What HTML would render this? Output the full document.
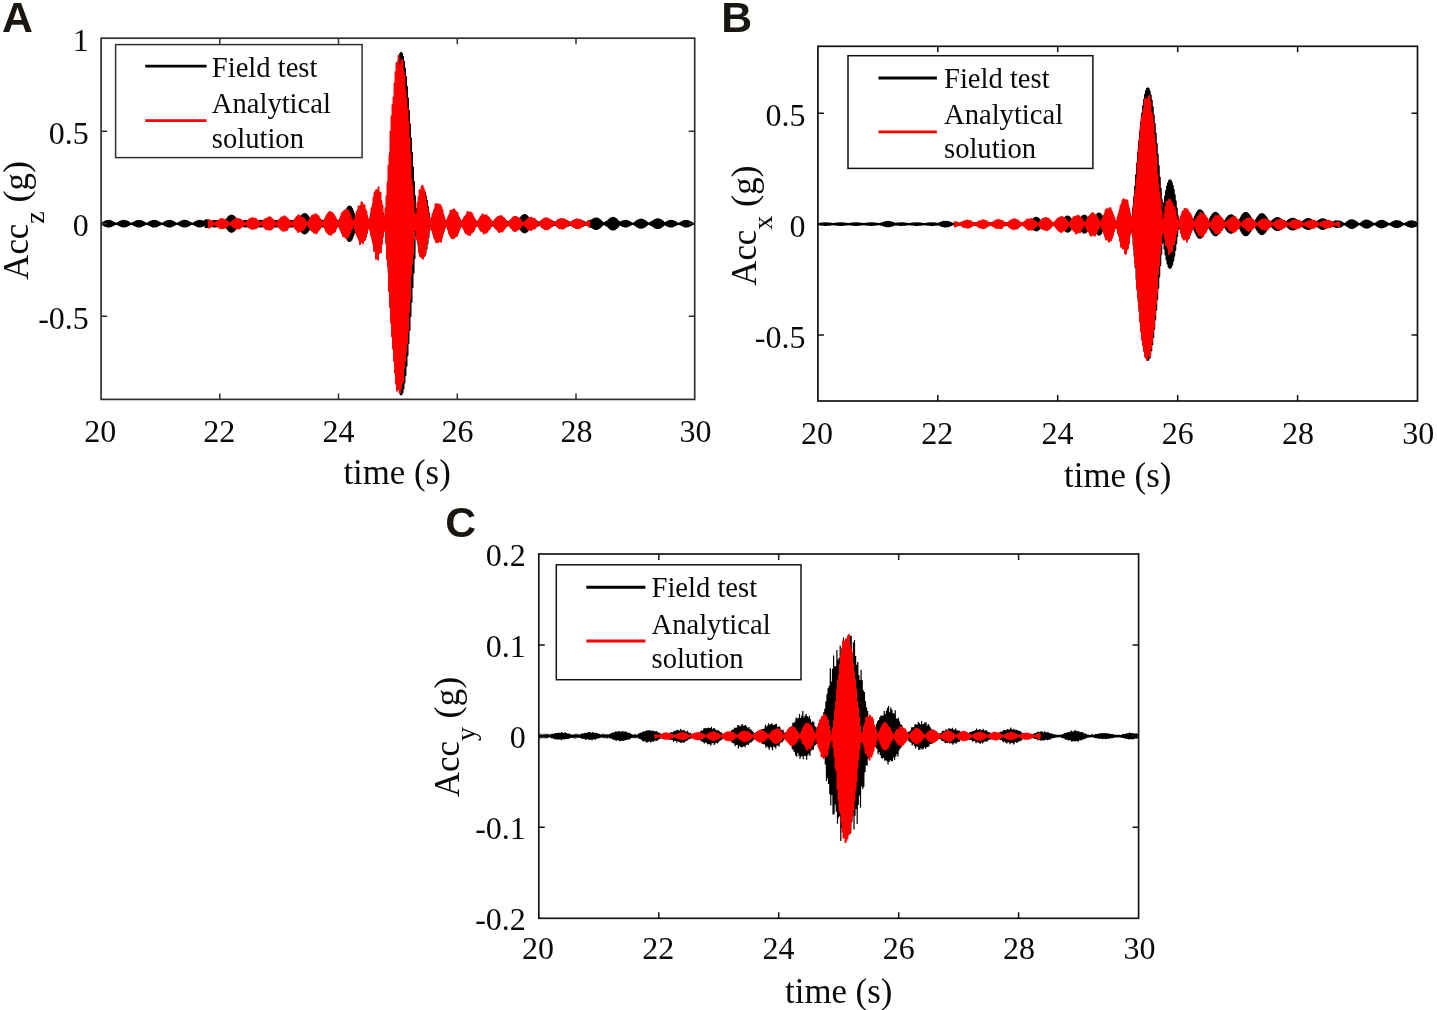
<!DOCTYPE html>
<html lang="en">
<head>
<meta charset="utf-8">
<title>Acceleration: field test vs analytical solution</title>
<style>
html,body{margin:0;padding:0;background:#fff;}
body{width:1437px;height:1010px;overflow:hidden;}
svg{display:block;will-change:transform;filter:blur(0.45px);}
text{white-space:pre;}
</style>
</head>
<body>
<svg width="1437" height="1010" viewBox="0 0 1437 1010">
<rect x="0" y="0" width="1437" height="1010" fill="#ffffff"/>
<defs>
<clipPath id="ca"><rect x="101.1" y="38.2" width="593.6" height="361.2"/></clipPath>
<clipPath id="cb"><rect x="817.9" y="46.3" width="599.6" height="354.7"/></clipPath>
<clipPath id="cc"><rect x="538.8" y="554" width="599.8" height="364.3"/></clipPath>
</defs>
<g clip-path="url(#ca)">
<path d="M101.1 223.7H694.7" stroke="#000" stroke-width="1.6" fill="none"/>
<path d="M101.1 223.6L101.6 224L102.1 223.2L102.6 224.5L103.1 222.7L103.6 225L104.1 222.1L104.6 225.5L105.1 221.6L105.6 226L106.1 221.2L106.6 226.4L107.1 220.9L107.6 226.6L108.1 220.7L108.6 226.7L109.1 220.7L109.6 226.6L110.1 220.9L110.6 226.4L111.1 221.2L111.6 226L112.1 221.6L112.6 225.5L113.1 222.1L113.6 225L114.1 222.7L114.6 224.5L115.1 223.2L115.6 224L116.1 223.6L116.6 223.9L117.1 223.3L117.6 224.4L118.1 222.8L118.6 224.9L119.1 222.2L119.6 225.4L120.1 221.7L120.6 225.9L121.1 221.3L121.6 226.3L122.1 220.9L122.6 226.6L123.1 220.7L123.6 226.7L124.1 220.7L124.6 226.6L125.1 220.8L125.6 226.4L126.1 221.1L126.6 226.1L127.1 221.5L127.6 225.6L128.1 222L128.6 225.1L129.1 222.6L129.6 224.6L130.1 223.1L130.6 224.1L131.1 223.5L131.6 223.8L132.1 223.4L132.6 224.3L133.1 222.9L133.6 224.8L134.1 222.3L134.6 225.3L135.1 221.8L135.6 225.8L136.1 221.3L136.6 226.3L137.1 221L137.6 226.5L138.1 220.8L138.6 226.7L139.1 220.7L139.6 226.7L140.1 220.8L140.6 226.5L141.1 221L141.6 226.2L142.1 221.4L142.6 225.7L143.1 221.9L143.6 225.2L144.1 222.4L144.6 224.7L145.1 223L145.6 224.2L146.1 223.4L146.6 223.8L147.1 223.4L147.6 224.2L148.1 223L148.6 224.7L149.1 222.4L149.6 225.2L150.1 221.9L150.6 225.7L151.1 221.4L151.6 226.2L152.1 221L152.6 226.5L153.1 220.8L153.6 226.7L154.1 220.7L154.6 226.7L155.1 220.8L155.6 226.5L156.1 221L156.6 226.3L157.1 221.3L157.6 225.8L158.1 221.8L158.6 225.3L159.1 222.3L159.6 224.8L160.1 222.9L160.6 224.3L161.1 223.4L161.6 223.8L162.1 223.5L162.6 224.1L163.1 223.1L163.6 224.6L164.1 222.6L164.6 225.1L165.1 222L165.6 225.6L166.1 221.5L166.6 226.1L167.1 221.1L167.6 226.4L168.1 220.8L168.6 226.6L169.1 220.7L169.6 226.7L170.1 220.7L170.6 226.6L171.1 220.9L171.6 226.3L172.1 221.3L172.6 225.9L173.1 221.7L173.6 225.4L174.1 222.2L174.6 224.9L175.1 222.8L175.6 224.4L176.1 223.3L176.6 223.9L177.1 223.6L177.6 224L178.1 223.2L178.6 224.5L179.1 222.7L179.6 225L180.1 222.1L180.6 225.5L181.1 221.6L181.6 226L182.1 221.2L182.6 226.4L183.1 220.9L183.6 226.6L184.1 220.7L184.6 226.7L185.1 220.7L185.6 226.6L186.1 220.9L186.6 226.4L187.1 221.2L187.6 226L188.1 221.6L188.6 225.5L189.1 222.1L189.6 225L190.1 222.7L190.6 224.5L191.1 223.2L191.6 224L192.1 223.6L192.6 223.9L193.1 223.3L193.6 224.4L194.1 222.8L194.6 224.9L195.1 222.2L195.6 225.4L196.1 221.7L196.6 225.9L197.1 221.3L197.6 226.3L198.1 220.9L198.6 226.6L199.1 220.7L199.6 226.7L200.1 220.7L200.6 226.6L201.1 220.8L201.6 226.4L202.1 221.1L202.6 226.1L203.1 221.5L203.6 225.6L204.1 222L204.6 225.1L205.1 220.3L205.6 227.2L206.1 220.1L206.6 227.3L207.1 220.1L207.6 227.2L208.1 220.2L208.6 227L209.1 220.5L209.6 226.7L210.1 220.9L210.6 226.3L211.1 221.4L211.6 225.8L212.1 221.3L212.6 226.3L213.1 221L213.6 226.5L214.1 220.8L214.6 226.7L215.1 220.7L215.6 226.7L216.1 220.8L216.6 226.5L217.1 221L217.6 226.2L218.1 221.1L218.6 226.6L219.1 220.6L219.6 227L220.1 220.2L220.6 227.4L221.1 219.9L221.6 227.6L222.1 219.8L222.6 227.6L223.1 219.9L223.6 227.5L224.1 220.1L224.6 227.2L225.1 220.4L225.6 226.7L226.1 220.2L226.6 227.9L227.1 218.7L227.6 229.3L228.1 217.5L228.6 230.4L229.1 216.5L229.6 231.3L230.1 215.8L230.6 231.8L231.1 215.5L231.6 231.9L232.1 215.6L232.6 231.7L233.1 216L233.6 231.1L234.1 216.7L234.6 230.2L235.1 217.7L235.6 229.1L236.1 219L236.6 227.9L237.1 219.5L237.6 228L238.1 219.4L238.6 227.9L239.1 219.6L239.6 227.7L240.1 219.9L240.6 227.3L241.1 220.4L241.6 226.7L242.1 221L242.6 226.1L243.1 221.1L243.6 226.4L244.1 220.8L244.6 226.6L245.1 220.7L245.6 226.7L246.1 220.7L246.6 226.6L247.1 220.9L247.6 226.3L248.1 221.2L248.6 226.5L249.1 220.5L249.6 227.2L250.1 219.9L250.6 227.8L251.1 219.4L251.6 228.2L252.1 219.1L252.6 228.4L253.1 219L253.6 228.4L254.1 219.1L254.6 228.2L255.1 219.3L255.6 227.9L256.1 219.8L256.6 227.3L257.1 220.4L257.6 226.6L258.1 221.2L258.6 226.4L259.1 220.9L259.6 226.6L260.1 220.7L260.6 226.7L261.1 220.7L261.6 226.6L262.1 220.9L262.6 226.4L263.1 221.2L263.6 226.5L264.1 220.5L264.6 227.3L265.1 219.7L265.6 228L266.1 219.1L266.6 228.5L267.1 218.7L267.6 228.9L268.1 218.5L268.6 229L269.1 218.4L269.6 228.9L270.1 218.7L270.6 228.6L271.1 219.1L271.6 228L272.1 219.7L272.6 227.3L273.1 220.5L273.6 226.5L274.1 220.9L274.6 226.6L275.1 220.7L275.6 226.7L276.1 220.7L276.6 226.6L277.1 220.8L277.6 226.4L278.1 221.1L278.6 226.4L279.1 220.5L279.6 227.4L280.1 219.6L280.6 228.2L281.1 218.8L281.6 228.9L282.1 218.2L282.6 229.4L283.1 217.8L283.6 229.6L284.1 217.7L284.6 229.7L285.1 217.8L285.6 229.4L286.1 218.2L286.6 228.9L287.1 218.8L287.6 228.2L288.1 219.6L288.6 227.3L289.1 220.6L289.6 226.5L290.1 220.8L290.6 226.7L291.1 220.7L291.6 226.7L292.1 220.8L292.6 226.5L293.1 221L293.6 226.2L294.1 220.6L294.6 227.4L295.1 219.4L295.6 228.5L296.1 218.4L296.6 229.4L297.1 217.7L297.6 230L298.1 217.1L298.6 230.5L299.1 216.8L299.6 230.6L300.1 216.8L300.6 230.5L301.1 216.4L301.6 231.6L302.1 215.2L302.6 232.7L303.1 214.4L303.6 233.3L304.1 214L304.6 233.5L305.1 214L305.6 233.3L306.1 214.4L306.6 232.7L307.1 215.2L307.6 231.6L308.1 216.4L308.6 230.3L309.1 217.9L309.6 228.6L310.1 219.3L310.6 228.8L311.1 218L311.6 229.9L312.1 217L312.6 230.8L313.1 216.2L313.6 231.5L314.1 215.7L314.6 231.8L315.1 215.5L315.6 231.8L316.1 215.7L316.6 231.5L317.1 216.2L317.6 230.8L318.1 217L318.6 229.8L319.1 218.2L319.6 228.6L320.1 219.5L320.6 227.1L321.1 220.7L321.6 226.7L322.1 220.7L322.6 226.6L323.1 220.9L323.6 226.3L324.1 220.9L324.6 227.4L325.1 219.1L325.6 229.1L326.1 217.5L326.6 230.6L327.1 216.1L327.6 231.9L328.1 215L328.6 232.9L329.1 214.2L329.6 233.5L330.1 213.8L330.6 233.7L331.1 213.8L331.6 233.5L332.1 214.2L332.6 232.9L333.1 215L333.6 231.9L334.1 216.2L334.6 230.5L335.1 217.7L335.6 228.8L336.1 219.6L336.6 226.8L337.1 220.7L337.6 226.6L338.1 220.9L338.6 226.4L339.1 221.2L339.6 227.4L340.1 218.9L340.6 229.6L341.1 216.7L341.6 231.7L342.1 214.8L342.6 233.4L343.1 213.2L343.6 234.9L344.1 211.9L344.6 235.9L345.1 211.1L345.6 236.5L346.1 210.5L346.6 238.1L347.1 208.4L347.6 239.8L348.1 206.9L348.6 240.9L349.1 206.3L349.6 241.2L350.1 206.3L350.6 240.7L351.1 207.2L351.6 239.5L352.1 208.7L352.6 237.6L353.1 210.9L353.6 235.1L354.1 213.7L354.6 232.1L355.1 216.9L355.6 230.3L356.1 215.6L356.6 233.3L357.1 212.7L357.6 236L358.1 210.2L358.6 238.3L359.1 208.2L359.6 240L360.1 206.7L360.6 241.2L361.1 205.8L361.6 241.8L362.1 205.7L362.6 241.5L363.1 206.3L363.6 240.5L364.1 207.6L364.6 238.8L365.1 209.8L365.6 236.3L366.1 212.6L366.6 233.1L367.1 216.1L367.6 229.3L368.1 220.2L368.6 226.5L369.1 221L369.6 227L370.1 218.1L370.6 231.7L371.1 213.3L371.6 236.5L372.1 208.6L372.6 241.1L373.1 204.1L373.6 245.3L374.1 200.2L374.6 248.9L375.1 197L375.6 251.7L376.1 194.6L376.6 253.5L377.1 193.3L377.6 254.3L378.1 193.2L378.6 253.8L379.1 194.4L379.6 251.9L380.1 197L380.6 248.6L381.1 201L381.6 243.9L382.1 206.4L382.6 237.7L383.1 213.3L383.6 230.2L384.1 221L384.6 228.2L385.1 221.3L385.6 230.9L386.1 209.9L386.6 244.3L387.1 196.2L387.6 258.3L388.1 182L388.6 272.7L389.1 167.4L389.6 287.3L390.1 152.8L390.6 301.9L391.1 138.3L391.6 316.2L392.1 124.2L392.6 330L393.1 110.8L393.6 343L394.1 98.3L394.6 355L395.1 86.9L395.6 365.7L396.1 76.9L396.6 375L397.1 68.4L397.6 382.6L398.1 61.6L398.6 388.5L399.1 56.7L399.6 392.4L400.1 53.7L400.6 394.4L401.1 52.7L401.6 394.4L402.1 53.7L402.6 392.4L403.1 56.7L403.6 388.5L404.1 61.6L404.6 382.6L405.1 68.4L405.6 375L406.1 76.9L406.6 365.7L407.1 86.9L407.6 355L408.1 98.3L408.6 343L409.1 110.8L409.6 330L410.1 124.2L410.6 316.2L411.1 138.3L411.6 301.9L412.1 152.8L412.6 287.3L413.1 167.4L413.6 272.7L414.1 182L414.6 258.3L415.1 196.2L415.6 226.8L416.1 216.4L416.6 234.9L417.1 209L417.6 241.6L418.1 203L418.6 246.9L419.1 198.4L419.6 250.8L420.1 195.3L420.6 253.2L421.1 193.5L421.6 254.2L422.1 192.3L422.6 256L423.1 190.8L423.6 256.7L424.1 191L424.6 255.7L425.1 192.8L425.6 253.1L426.1 196.2L426.6 249L427.1 200.9L427.6 243.7L428.1 206.8L428.6 237.3L429.1 213.5L429.6 230.3L430.1 220.7L430.6 226.1L431.1 221.5L431.6 227.7L432.1 217.7L432.6 231.7L433.1 214L433.6 235.1L434.1 210.8L434.6 237.9L435.1 208.4L435.6 239.9L436.1 206.7L436.6 241.2L437.1 205.8L437.6 241.8L438.1 205.7L438.6 241.5L439.1 206.2L439.6 240.6L440.1 207.5L440.6 239L441.1 209.4L441.6 236.9L442.1 211.7L442.6 234.4L443.1 214.4L443.6 231.5L444.1 217.4L444.6 228.5L445.1 220.5L445.6 226.2L446.1 221.4L446.6 225.7L447.1 220.9L447.6 227.9L448.1 218.2L448.6 230.5L449.1 215.8L449.6 232.7L450.1 213.8L450.6 234.4L451.1 212.3L451.6 235.7L452.1 211.3L452.6 236.4L453.1 210.9L453.6 236.6L454.1 211L454.6 236.2L455.1 211.6L455.6 235.4L456.1 212.6L456.6 234.1L457.1 214.1L457.6 232.4L458.1 215.9L458.6 230.4L459.1 218L459.6 228.3L460.1 220.3L460.6 226.3L461.1 221.3L461.6 225.8L462.1 221.8L462.6 225.9L463.1 220.4L463.6 228L464.1 218.5L464.6 229.8L465.1 216.8L465.6 231.3L466.1 215.4L466.6 232.5L467.1 214.4L467.6 233.3L468.1 213.9L468.6 233.7L469.1 213.7L469.6 233.6L470.1 214L470.6 233.2L471.1 214.6L471.6 232.3L472.1 215.6L472.6 231.2L473.1 216.9L473.6 229.8L474.1 218.4L474.6 228.1L475.1 220.1L475.6 226.4L476.1 221.3L476.6 225.9L477.1 221.7L477.6 225.4L478.1 221.8L478.6 226.4L479.1 220.2L479.6 228L480.1 218.7L480.6 229.4L481.1 217.5L481.6 230.5L482.1 216.5L482.6 231.3L483.1 215.9L483.6 231.7L484.1 215.6L484.6 231.9L485.1 215.6L485.6 231.7L486.1 216L486.6 231.1L487.1 216.6L487.6 230.3L488.1 217.6L488.6 229.3L489.1 218.8L489.6 228L490.1 220.1L490.6 226.6L491.1 221.2L491.6 226L492.1 221.6L492.6 225.5L493.1 222.1L493.6 225.3L494.1 221.4L494.6 226.7L495.1 220L495.6 228L496.1 218.9L496.6 229L497.1 218L497.6 229.8L498.1 217.3L498.6 230.3L499.1 216.9L499.6 230.6L500.1 216.8L500.6 230.5L501.1 217L501.6 230.2L502.1 217.4L502.6 229.7L503.1 218.1L503.6 228.9L504.1 219L504.6 227.9L505.1 220.1L505.6 226.7L506.1 221.1L506.6 226.1L507.1 221.5L507.6 225.6L508.1 222L508.6 225.1L509.1 222.2L509.6 225.8L510.1 221L510.6 226.9L511.1 220L511.6 227.9L512.1 219.1L512.6 228.7L513.1 218.4L513.6 229.3L514.1 217.9L514.6 229.6L515.1 217.7L515.6 229.7L516.1 217.8L516.6 229.5L517.1 218L517.6 229.1L518.1 218.5L518.6 228.5L519.1 219.2L519.6 228.1L520.1 218.5L520.6 229.6L521.1 217.2L521.6 230.8L522.1 216.1L522.6 231.7L523.1 215.3L523.6 232.3L524.1 214.9L524.6 232.5L525.1 214.9L525.6 232.3L526.1 215.3L526.6 231.7L527.1 216.1L527.6 230.8L528.1 217.2L528.6 229.6L529.1 218.5L529.6 228.8L530.1 218.5L530.6 229L531.1 218.4L531.6 228.9L532.1 218.6L532.6 228.7L533.1 218.9L533.6 228.2L534.1 219.5L534.6 227.6L535.1 220.2L535.6 226.8L536.1 221L536.6 226.3L537.1 221.3L537.6 225.8L538.1 221.8L538.6 225.3L539.1 222.3L539.6 224.8L540.1 222.5L540.6 225.4L541.1 221.5L541.6 226.3L542.1 220.7L542.6 227L543.1 220L543.6 227.7L544.1 219.5L544.6 228.1L545.1 219.1L545.6 228.4L546.1 219L546.6 228.4L547.1 219L547.6 228.3L548.1 219.3L548.6 228L549.1 219.7L549.6 227.5L550.1 220.2L550.6 226.8L551.1 220.9L551.6 226.3L552.1 221.3L552.6 225.9L553.1 221.7L553.6 225.4L554.1 222.2L554.6 224.9L555.1 222.8L555.6 224.9L556.1 222.1L556.6 225.7L557.1 221.3L557.6 226.4L558.1 220.6L558.6 227L559.1 220.1L559.6 227.5L560.1 219.7L560.6 227.8L561.1 219.5L561.6 228L562.1 219.4L562.6 227.9L563.1 219.6L563.6 227.7L564.1 219.9L564.6 227.3L565.1 220.3L565.6 226.8L566.1 220.9L566.6 226.4L567.1 221.2L567.6 226L568.1 221.6L568.6 225.5L569.1 222.1L569.6 225L570.1 222.7L570.6 224.5L571.1 222.6L571.6 225.2L572.1 221.9L572.6 225.9L573.1 221.2L573.6 226.5L574.1 220.6L574.6 227L575.1 220.2L575.6 227.4L576.1 219.9L576.6 227.6L577.1 219.8L577.6 227.6L578.1 219.8L578.6 227.5L579.1 220L579.6 227.2L580.1 220.4L580.6 226.8L581.1 220.8L581.6 226.4L582.1 221.1L582.6 226.1L583.1 221.5L583.6 225.6L584.1 222L584.6 225.1L585.1 222.6L585.6 224.6L586.1 223L586.6 224.7L587.1 222.3L587.6 225.4L588.1 221.7L588.6 226L589.1 221.1L589.6 226.5L590.1 220.6L590.6 226.9L591.1 220.3L591.6 227.2L592.1 220.2L592.6 227.6L593.1 219.4L593.6 228.3L594.1 218.8L594.6 228.8L595.1 218.4L595.6 229.1L596.1 218.3L596.6 229.1L597.1 218.4L597.6 228.9L598.1 218.7L598.6 228.4L599.1 219.3L599.6 227.8L600.1 220L600.6 227L601.1 220.9L601.6 226L602.1 221.9L602.6 224.9L603.1 223L603.6 224.2L604.1 223L604.6 224.7L605.1 222.4L605.6 225.2L606.1 221.9L606.6 225.7L607.1 221.4L607.6 226.3L608.1 220.6L608.6 227.3L609.1 219.6L609.6 228.2L610.1 218.8L610.6 229L611.1 218.2L611.6 229.4L612.1 217.8L612.6 229.7L613.1 217.7L613.6 229.7L614.1 217.9L614.6 229.4L615.1 218.3L615.6 228.8L616.1 218.9L616.6 228.1L617.1 219.8L617.6 227.1L618.1 220.8L618.6 226L619.1 222L619.6 224.8L620.1 222.6L620.6 225.1L621.1 222L621.6 225.6L622.1 221.5L622.6 226.1L623.1 221.1L623.6 226.4L624.1 220.8L624.6 226.6L625.1 220.7L625.6 226.7L626.1 220.7L626.6 226.6L627.1 220.9L627.6 226.3L628.1 221.3L628.6 225.9L629.1 221.7L629.6 225.4L630.1 222.2L630.6 224.9L631.1 222.8L631.6 224.4L632.1 223.3L632.6 223.9L633.1 223.6L633.6 224L634.1 223.2L634.6 224.7L635.1 222.3L635.6 225.5L636.1 221.5L636.6 226.2L637.1 220.8L637.6 226.9L638.1 220.3L638.6 227.4L639.1 219.8L639.6 227.7L640.1 219.6L640.6 227.9L641.1 219.5L641.6 227.9L642.1 219.6L642.6 227.7L643.1 219.9L643.6 227.3L644.1 220.4L644.6 226.8L645.1 221L645.6 226.1L646.1 221.7L646.6 225.3L647.1 222.5L647.6 224.5L648.1 223.3L648.6 223.9L649.1 223.3L649.6 224.4L650.1 222.8L650.6 224.9L651.1 222.2L651.6 225.4L652.1 221.7L652.6 225.9L653.1 221.2L653.6 226.6L654.1 220.4L654.6 227.3L655.1 219.8L655.6 227.8L656.1 219.4L656.6 228.2L657.1 219.1L657.6 228.3L658.1 219.1L658.6 228.2L659.1 219.3L659.6 228L660.1 219.6L660.6 227.5L661.1 220.2L661.6 226.9L662.1 220.8L662.6 226.2L663.1 221.7L663.6 225.3L664.1 222.6L664.6 224.4L665.1 222.9L665.6 224.8L666.1 222.3L666.6 225.3L667.1 221.8L667.6 225.8L668.1 221.3L668.6 226.3L669.1 221L669.6 226.5L670.1 220.8L670.6 226.7L671.1 220.7L671.6 226.7L672.1 220.8L672.6 226.5L673.1 221L673.6 226.2L674.1 221.4L674.6 225.7L675.1 221.9L675.6 225.2L676.1 222.4L676.6 224.7L677.1 223L677.6 224.2L678.1 223.4L678.6 223.8L679.1 223.4L679.6 224.2L680.1 223L680.6 224.7L681.1 222.4L681.6 225.2L682.1 221.9L682.6 225.7L683.1 221.4L683.6 226.2L684.1 221L684.6 226.5L685.1 220.8L685.6 226.7L686.1 220.7L686.6 226.7L687.1 220.8L687.6 226.5L688.1 221L688.6 226.3L689.1 221.3L689.6 225.8L690.1 221.8L690.6 225.3L691.1 222.3L691.6 224.8L692.1 222.9L692.6 224.3L693.1 223.4L693.6 223.8L694.1 223.5L694.6 224.1" stroke="#000" stroke-width="1.8" fill="none" stroke-linejoin="round"/>
<path d="M208.5 219.8L209 227.6L209.5 220.4L210 227.2L210.5 220.8L211 226.4L211.5 221.2L212 225.6L212.5 222L213 224.9L213.5 222.9L214 224.1L214.5 223.6L215 224.2L215.5 222.7L216 225.1L216.5 222L217 225.6L217.5 221.3L218 226.6L218.5 220.9L219 227.5L219.5 220.3L220 227.8L220.5 219.3L221 228.3L221.5 219.2L222 227.7L222.5 219L223 227.9L223.5 219.6L224 227.9L224.5 219.9L225 227.8L225.5 219.9L226 227.1L226.5 221L227 226.2L227.5 221.5L228 225.3L228.5 222.5L229 224.5L229.5 223.4L230 223.8L230.5 223.1L231 224.7L231.5 222.2L232 225.5L232.5 221.5L233 226.6L233.5 220.9L234 227.5L234.5 219.8L235 227.5L235.5 219.1L236 228.2L236.5 218.6L237 228.2L237.5 219.3L238 228.4L238.5 219.4L239 228.5L239.5 219.5L240 227.8L240.5 219.8L241 227.5L241.5 220.6L242 226.4L242.5 221L243 225.8L243.5 221.7L244 224.9L244.5 222.9L245 224L245.5 223.5L246 224.4L246.5 222.5L247 225.3L247.5 221.3L248 226.4L248.5 220.4L249 227.5L249.5 219.4L250 227.6L250.5 218.8L251 228.7L251.5 218.6L252 228.3L252.5 218L253 229L253.5 218.5L254 228.4L254.5 219L255 228.2L255.5 218.8L256 228.2L256.5 219.5L257 227.1L257.5 220.8L258 226.8L258.5 221.1L259 225.7L259.5 222.2L260 224.5L260.5 223.4L261 224L261.5 222.8L262 225.1L262.5 221.7L263 226.1L263.5 221L264 227L264.5 219.8L265 227.9L265.5 219.2L266 229.3L266.5 218.9L267 228.9L267.5 218.5L268 229.1L268.5 217.7L269 229.7L269.5 217.3L270 229.2L270.5 217.6L271 229.5L271.5 218.4L272 228.6L272.5 219.4L273 227.8L273.5 220.1L274 226.6L274.5 221.4L275 225.2L275.5 222.7L276 223.9L276.5 223.3L277 224.8L277.5 222L278 226L278.5 220.7L279 227.5L279.5 220.1L280 227.6L280.5 218.7L281 229.1L281.5 217.4L282 230.3L282.5 217.2L283 230.6L283.5 217.6L284 230.9L284.5 216.3L285 229.5L285.5 217.3L286 230.4L286.5 217.9L287 229.9L287.5 218.6L288 227.8L288.5 219.9L289 227.1L289.5 220.6L290 226.1L290.5 221.9L291 224.6L291.5 223.5L292 224.2L292.5 222.4L293 225.8L293.5 221.2L294 226.6L294.5 220L295 228L295.5 218.9L296 229.1L296.5 217.1L297 230.3L297.5 216.5L298 231.8L298.5 215.3L299 231.7L299.5 215.6L300 231L300.5 217L301 231.2L301.5 217.4L302 229.7L302.5 218L303 229.8L303.5 218L304 228.8L304.5 219.3L305 227.3L305.5 221.2L306 225.3L306.5 222.8L307 223.9L307.5 223L308 225.1L308.5 221.1L309 226.8L309.5 220.1L310 228.1L310.5 218.5L311 229.9L311.5 216.4L312 230.5L312.5 215.5L313 231.4L313.5 216.1L314 232.8L314.5 214.5L315 231.8L315.5 215.2L316 233.4L316.5 214.2L317 232.8L317.5 216.5L318 230.7L318.5 216.1L319 229.5L319.5 218.8L320 228.3L320.5 219.6L321 226.7L321.5 221.4L322 224.9L322.5 223.6L323 224.6L323.5 221.8L324 226.3L324.5 219.7L325 228.2L325.5 218.3L326 230.9L326.5 215.7L327 232.4L327.5 214.1L328 233.1L328.5 213L329 234.4L329.5 211.9L330 233.6L330.5 212.2L331 234.9L331.5 213L332 233.3L332.5 213.2L333 232.5L333.5 214.5L334 232.1L334.5 216L335 231.3L335.5 217.8L336 228.9L336.5 219.6L337 226L337.5 222.3L338 223.7L338.5 222.5L339 226.2L339.5 219.7L340 228.8L340.5 217.5L341 230.7L341.5 214.2L342 233.2L342.5 212.4L343 235.9L343.5 212.2L344 236.6L344.5 210.4L345 236.7L345.5 211L346 238.2L346.5 209.8L347 237.8L347.5 210L348 236.4L348.5 210.9L349 235.5L349.5 212.6L350 232.6L350.5 215.3L351 230.5L351.5 218.2L352 228.7L352.5 220.6L353 225L353.5 223.5L354 225.7L354.5 219.8L355 229.1L355.5 215.9L356 233L356.5 212.3L357 235.1L357.5 211.3L358 237L358.5 206.4L359 239.9L359.5 206.4L360 244.2L360.5 206.1L361 241.2L361.5 202.2L362 241.5L362.5 203.3L363 243.3L363.5 207.1L364 240.3L364.5 205.3L365 239.7L365.5 209.4L366 236.9L366.5 212L367 232.9L367.5 217.4L368 228.6L368.5 221.7L369 224.2L369.5 220.2L370 229.7L370.5 215.6L371 234.7L371.5 208.5L372 238.1L372.5 206.2L373 242.5L373.5 197.8L374 250.9L374.5 192.9L375 251.1L375.5 191.1L376 258.7L376.5 190L377 254L377.5 192.4L378 259.7L378.5 187.2L379 253.1L379.5 192.6L380 252.3L380.5 192.7L381 252.3L381.5 201.7L382 244L382.5 205.6L383 234.8L383.5 215.8L384 226.9L384.5 221.7L385 230.9L385.5 208L386 242.6L386.5 196L387 259.2L387.5 183.2L388 266.6L388.5 165.6L389 291.3L389.5 155.3L390 307.2L390.5 131.8L391 322.7L391.5 116.5L392 336.6L392.5 105.1L393 348.8L393.5 97.4L394 360.9L394.5 83.5L395 372.7L395.5 72.1L396 383.7L396.5 63L397 390.8L397.5 63.6L398 386.7L398.5 55.8L399 387.7L399.5 65.9L400 392.8L400.5 64.4L401 388.3L401.5 60L402 382.8L402.5 61.1L403 381.7L403.5 71.5L404 368.2L404.5 75.7L405 361L405.5 90.1L406 352.5L406.5 98.4L407 343.2L407.5 108.1L408 331.6L408.5 122.5L409 312.4L409.5 138.8L410 299.8L410.5 153.9L411 275.2L411.5 178.9L412 264.3L412.5 186.3L413 254.2L413.5 200.5L414 239.4L414.5 213.8L415 226.7L415.5 221.1L416 230.1L416.5 213.5L417 239.1L417.5 203.3L418 243.6L418.5 197.2L419 252.4L419.5 190.3L420 256L420.5 190.9L421 257.1L421.5 187.3L422 257.7L422.5 185.8L423 258.8L423.5 188.1L424 255.6L424.5 190.6L425 255L425.5 196.3L426 249.3L426.5 202.4L427 242.9L427.5 207.9L428 237.4L428.5 212.7L429 231.8L429.5 217.3L430 227.5L430.5 222.8L431 225.3L431.5 220L432 229.7L432.5 214.3L433 233.3L433.5 212.6L434 237.3L434.5 209.1L435 239.2L435.5 204.2L436 242.3L436.5 204.3L437 241.9L437.5 205.1L438 242.2L438.5 204.2L439 241.3L439.5 205.6L440 241L440.5 205.3L441 241.8L441.5 207.4L442 237.8L442.5 210.3L443 233.5L443.5 214.8L444 230.8L444.5 218.2L445 227.5L445.5 221.5L446 224.3L446.5 222.6L447 226.3L447.5 219.3L448 229.5L448.5 216.7L449 233.2L449.5 214.5L450 235.2L450.5 210.7L451 237L451.5 211.3L452 238.4L452.5 210.5L453 236.3L453.5 209.4L454 238.3L454.5 209.7L455 236.7L455.5 211.5L456 235.8L456.5 212.4L457 235.7L457.5 213L458 233.1L458.5 216.4L459 230.6L459.5 218.4L460 228.3L460.5 220.6L461 225.3L461.5 223.5L462 224.7L462.5 221.6L463 227.3L463.5 219.2L464 229.4L464.5 217L465 231.9L465.5 216.2L466 233.5L466.5 215.2L467 232.8L467.5 211.8L468 234.7L468.5 213.5L469 233.5L469.5 212.5L470 235.2L470.5 212.4L471 232.8L471.5 213.3L472 232.6L472.5 214.5L473 231.4L473.5 217.6L474 230.3L474.5 219L475 227.8L475.5 220.8L476 225.7L476.5 222.5L477 223.8L477.5 222.8L478 225.8L478.5 220.5L479 227.5L479.5 219L480 229.4L480.5 217L481 230.8L481.5 215.9L482 231L482.5 214.3L483 231.8L483.5 215.5L484 233.6L484.5 215.6L485 232.3L485.5 215.7L486 232.8L486.5 215.1L487 231.9L487.5 217.2L488 230.5L488.5 217.2L489 229.4L489.5 218.5L490 228.3L490.5 220L491 226L491.5 221.9L492 224.5L492.5 223.7L493 224.6L493.5 222L494 226.3L494.5 220.4L495 227.2L495.5 219.5L496 228.5L496.5 218.1L497 229.3L497.5 217.7L498 230.7L498.5 216.8L499 232.1L499.5 216.5L500 231.5L500.5 216.5L501 230.9L501.5 216L502 231.5L502.5 217.7L503 230.6L503.5 217.8L504 229.2L504.5 218.7L505 227.6L505.5 220.6L506 226.7L506.5 221.7L507 225.1L507.5 223.1L508 223.8L508.5 222.8L509 225.3L509.5 221.4L510 226.2L510.5 220.2L511 228L511.5 219.6L512 228.1L512.5 218.2L513 230L513.5 217.1L514 230.7L514.5 216.9L515 231L515.5 216.6L516 230.7L516.5 217.3L517 229.4L517.5 218L518 229.6L518.5 218.1L519 228.7L519.5 219L520 227.9L520.5 219.8L521 226.8L521.5 221.6L522 225.6L522.5 222.6L523 224.2L523.5 223.6L524 224.5L524.5 222.3L525 225.8L525.5 221.1L526 226.8L526.5 220.5L527 227.4L527.5 219.6L528 229.1L528.5 218L529 228.8L529.5 218.6L530 229.5L530.5 218L531 230.3L531.5 217.7L532 228.8L532.5 218.6L533 228.6L533.5 219.2L534 228.8L534.5 218.8L535 228.1L535.5 220.1L536 226.7L536.5 221.4L537 225.6L537.5 222.2L538 224.6L538.5 223.3L539 223.9L539.5 222.9L540 224.9L540.5 221.8L541 225.8L541.5 221L542 227.1L542.5 219.7L543 228L543.5 219.5L544 228.1L544.5 218.4L545 229.3L545.5 218.6L546 228.8L546.5 218.3L547 229.3L547.5 218.7L548 229.3L548.5 218.7L549 228.3L549.5 219.9L550 227.5L550.5 220.5L551 226.9L551.5 220.8L552 226.1L552.5 222.1L553 224.9L553.5 222.8L554 224L554.5 223.5L555 224.4L555.5 222.5L556 225.5L556.5 221.7L557 226L557.5 220.5L558 227.4L558.5 219.9L559 227.7L559.5 219.7L560 228.4L560.5 219.5L561 228.1L561.5 219L562 228.8L562.5 219.5L563 228.5L563.5 219.6L564 228.3L564.5 219.3L565 227.3L565.5 220L566 226.5L566.5 220.9L567 226.3L567.5 221.5L568 225.3L568.5 222.6L569 224.3L569.5 223.4L570 223.9L570.5 223L571 224.7L571.5 222L572 225.9L572.5 221.1L573 226.5L573.5 220.9L574 226.7L574.5 220.3L575 227.1L575.5 220.1L576 228.1L576.5 219.1L577 227.6L577.5 219.6L578 228.5L578.5 219.7L579 227.9L579.5 219.6L580 227.6L580.5 219.9L581 227.3L581.5 220.6L582 226.4L582.5 221.7L583 225.7L583.5 222.4L584 224.8L584.5 223.1L585 223.9L585.5 223.5L586 224.4L586.5 222.5L587 225.2L587.5 221.8L588 225.7L588.5 221L589 226.6L589.5 220.9" stroke="#ff0000" stroke-width="1.9" fill="none" stroke-linejoin="round"/>
</g>
<g clip-path="url(#cb)">
<path d="M817.9 224.1H1417.5" stroke="#000" stroke-width="1.4" fill="none"/>
<path d="M817.9 223.8L818.4 224.4L818.9 223.7L819.4 224.6L819.9 223.6L820.4 224.7L820.9 223.4L821.4 224.8L821.9 223.3L822.4 224.9L822.9 223.2L823.4 225L823.9 223.1L824.4 225.1L824.9 223.1L825.4 225.1L825.9 223.1L826.4 225.1L826.9 223.1L827.4 225L827.9 223.2L828.4 225L828.9 223.3L829.4 224.9L829.9 223.4L830.4 224.8L830.9 223.5L831.4 224.6L831.9 223.7L832.4 224.5L832.9 223.8L833.4 224.4L833.9 223.7L834.4 224.5L834.9 223.6L835.4 224.7L835.9 223.5L836.4 224.8L836.9 223.3L837.4 224.9L837.9 223.2L838.4 225L838.9 223.2L839.4 225.1L839.9 223.1L840.4 225.1L840.9 223.1L841.4 225.1L841.9 223.1L842.4 225.1L842.9 223.2L843.4 225L843.9 223.2L844.4 224.9L844.9 223.4L845.4 224.8L845.9 223.5L846.4 224.7L846.9 223.6L847.4 224.5L847.9 223.8L848.4 224.3L848.9 223.8L849.4 224.5L849.9 223.6L850.4 224.7L850.9 223.5L851.4 224.8L851.9 223.4L852.4 224.9L852.9 223.2L853.4 225L853.9 223.2L854.4 225.1L854.9 223.1L855.4 225.1L855.9 223.1L856.4 225.1L856.9 223.1L857.4 225.1L857.9 223.2L858.4 225L858.9 223.2L859.4 224.9L859.9 223.3L860.4 224.8L860.9 223.5L861.4 224.7L861.9 223.6L862.4 224.5L862.9 223.7L863.4 224.4L863.9 223.8L864.4 224.5L864.9 223.7L865.4 224.6L865.9 223.5L866.4 224.8L866.9 223.4L867.4 224.9L867.9 223.3L868.4 225L868.9 223.2L869.4 225L869.9 223.1L870.4 225.1L870.9 223.1L871.4 225.1L871.9 223.1L872.4 225.1L872.9 223.1L873.4 225L873.9 223.2L874.4 224.9L874.9 223.3L875.4 224.8L875.9 223.4L876.4 224.7L876.9 223.6L877.4 224.6L877.9 223.7L878.4 224.4L878.9 223.8L879.4 224.4L879.9 223.7L880.4 224.6L880.9 223.5L881.4 224.8L881.9 223.2L882.4 225.2L882.9 222.8L883.4 225.6L883.9 222.4L884.4 225.9L884.9 222.1L885.4 226.2L885.9 221.9L886.4 226.4L886.9 221.8L887.4 226.5L887.9 221.7L888.4 226.5L888.9 221.7L889.4 226.4L889.9 221.9L890.4 226.2L890.9 222.1L891.4 226L891.9 222.4L892.4 225.7L892.9 222.7L893.4 225.3L893.9 223.1L894.4 224.8L894.9 223.6L895.4 224.6L895.9 223.6L896.4 224.7L896.9 223.4L897.4 224.8L897.9 223.3L898.4 224.9L898.9 223.2L899.4 225L899.9 223.1L900.4 225.1L900.9 223.1L901.4 225.1L901.9 223.1L902.4 225.1L902.9 223.1L903.4 225L903.9 223.2L904.4 225L904.9 223.3L905.4 224.9L905.9 223.4L906.4 224.8L906.9 223.5L907.4 224.6L907.9 223.7L908.4 224.5L908.9 223.8L909.4 224.4L909.9 223.7L910.4 224.5L910.9 223.6L911.4 224.7L911.9 223.5L912.4 224.8L912.9 223.3L913.4 224.9L913.9 223.2L914.4 225L914.9 223.2L915.4 225.1L915.9 223.1L916.4 225.1L916.9 223.1L917.4 225.1L917.9 223.1L918.4 225.1L918.9 223.2L919.4 225L919.9 223.2L920.4 224.9L920.9 223.4L921.4 224.8L921.9 223.5L922.4 224.7L922.9 223.6L923.4 224.5L923.9 223.8L924.4 224.3L924.9 223.8L925.4 224.5L925.9 223.6L926.4 224.7L926.9 223.5L927.4 224.8L927.9 223.4L928.4 224.9L928.9 223.2L929.4 225L929.9 223.2L930.4 225.1L930.9 223.1L931.4 225.1L931.9 223.1L932.4 225.1L932.9 223.1L933.4 225.1L933.9 223.2L934.4 225L934.9 223.2L935.4 224.9L935.9 223.3L936.4 224.8L936.9 223.5L937.4 224.7L937.9 223.6L938.4 224.6L938.9 223.4L939.4 225L939.9 222.9L940.4 225.5L940.9 222.5L941.4 225.9L941.9 222.1L942.4 226.2L942.9 221.8L943.4 226.5L943.9 221.6L944.4 226.6L944.9 221.5L945.4 226.7L945.9 221.5L946.4 226.7L946.9 221.6L947.4 226.5L947.9 221.8L948.4 226.3L948.9 222.1L949.4 226L949.9 222.4L950.4 225.6L950.9 222.8L951.4 225.1L951.9 223.3L952.4 224.7L952.9 223.6L953.4 224.6L953.9 223.7L954.4 224.4L954.9 223.8L955.4 224.4L955.9 223.7L956.4 224.6L956.9 223.5L957.4 224.7L957.9 223.4L958.4 224.9L958.9 223.3L959.4 225L959.9 223.2L960.4 225L960.9 223.1L961.4 225.1L961.9 223.1L962.4 225.1L962.9 223.1L963.4 225.1L963.9 223.1L964.4 225L964.9 223.2L965.4 225L965.9 223.3L966.4 224.9L966.9 223.4L967.4 224.8L967.9 223.4L968.4 224.8L968.9 223.4L969.4 224.8L969.9 223.4L970.4 224.7L970.9 223.5L971.4 224.6L971.9 223.6L972.4 224.7L972.9 223.4L973.4 224.8L973.9 223.3L974.4 224.9L974.9 223.2L975.4 225L975.9 223.1L976.4 225.1L976.9 223.1L977.4 225.1L977.9 223.1L978.4 225.1L978.9 223.1L979.4 225L979.9 223.2L980.4 225.1L980.9 223.1L981.4 225.2L981.9 223L982.4 225.3L982.9 222.9L983.4 225.3L983.9 222.9L984.4 225.3L984.9 222.9L985.4 225.2L985.9 223L986.4 225.1L986.9 223.2L987.4 224.9L987.9 223.4L988.4 224.8L988.9 223.3L989.4 224.9L989.9 223.2L990.4 225L990.9 223.2L991.4 225.1L991.9 223.1L992.4 225.1L992.9 223.1L993.4 225.1L993.9 223.1L994.4 225.2L994.9 222.9L995.4 225.4L995.9 222.6L996.4 225.6L996.9 222.5L997.4 225.8L997.9 222.3L998.4 225.9L998.9 222.3L999.4 225.9L999.9 222.3L1000.4 225.8L1000.9 222.4L1001.4 225.7L1001.9 222.6L1002.4 225.5L1002.9 222.8L1003.4 225.2L1003.9 223.1L1004.4 224.9L1004.9 223.2L1005.4 225L1005.9 223.2L1006.4 225.1L1006.9 223.1L1007.4 225.1L1007.9 223.1L1008.4 225.1L1008.9 223L1009.4 225.4L1009.9 222.6L1010.4 225.8L1010.9 222.2L1011.4 226.1L1011.9 221.9L1012.4 226.4L1012.9 221.7L1013.4 226.6L1013.9 221.6L1014.4 226.6L1014.9 221.6L1015.4 226.6L1015.9 221.6L1016.4 226.5L1016.9 221.8L1017.4 226.3L1017.9 222.1L1018.4 225.9L1018.9 222.5L1019.4 225.5L1019.9 222.9L1020.4 225L1020.9 223.2L1021.4 225L1021.9 223.1L1022.4 225.1L1022.9 223.1L1023.4 225.1L1023.9 223L1024.4 225.5L1024.9 222.4L1025.4 226.1L1025.9 221.8L1026.4 226.6L1026.9 221.4L1027.4 227L1027.9 221L1028.4 227.3L1028.9 220.7L1029.4 227.5L1029.9 220.6L1030.4 227.6L1030.9 220.6L1031.4 227.5L1031.9 220.8L1032.4 228L1032.9 219.6L1033.4 229.1L1033.9 218.6L1034.4 230L1034.9 217.9L1035.4 230.5L1035.9 217.5L1036.4 230.7L1036.9 217.6L1037.4 230.5L1037.9 218L1038.4 229.9L1038.9 218.8L1039.4 228.9L1039.9 219.8L1040.4 227.7L1040.9 221.2L1041.4 227.1L1041.9 220.8L1042.4 227.7L1042.9 220.2L1043.4 228.2L1043.9 219.8L1044.4 228.6L1044.9 219.5L1045.4 228.8L1045.9 219.4L1046.4 228.8L1046.9 219.4L1047.4 228.6L1047.9 219.7L1048.4 228.3L1048.9 220.2L1049.4 227.7L1049.9 220.8L1050.4 227L1050.9 221.6L1051.4 226.1L1051.9 222.6L1052.4 225.1L1052.9 223.1L1053.4 225.1L1053.9 223.1L1054.4 225.3L1054.9 222.4L1055.4 226.4L1055.9 221.3L1056.4 227.5L1056.9 220.2L1057.4 228.4L1057.9 219.3L1058.4 229.3L1058.9 218.6L1059.4 229.9L1059.9 218.1L1060.4 230.3L1060.9 217.8L1061.4 230.5L1061.9 217.8L1062.4 230.3L1062.9 218L1063.4 230L1063.9 218.5L1064.4 229.7L1064.9 217.9L1065.4 230.8L1065.9 216.9L1066.4 231.6L1066.9 216.4L1067.4 231.9L1067.9 216.3L1068.4 231.8L1068.9 216.7L1069.4 231.2L1069.9 217.5L1070.4 230.2L1070.9 218.7L1071.4 228.8L1071.9 220.1L1072.4 228.7L1072.9 218.9L1073.4 229.8L1073.9 217.9L1074.4 230.7L1074.9 217.1L1075.4 231.4L1075.9 216.6L1076.4 231.8L1076.9 216.3L1077.4 231.9L1077.9 216.4L1078.4 231.6L1078.9 216.8L1079.4 231.1L1079.9 217.5L1080.4 230.3L1080.9 218.1L1081.4 230.8L1081.9 216.7L1082.4 232L1082.9 215.8L1083.4 232.7L1083.9 215.3L1084.4 232.9L1084.9 215.4L1085.4 232.6L1085.9 215.9L1086.4 231.8L1086.9 217L1087.4 230.5L1087.9 218.4L1088.4 230.4L1088.9 217.1L1089.4 231.8L1089.9 215.8L1090.4 232.9L1090.9 214.9L1091.4 233.6L1091.9 214.3L1092.4 234L1092.9 214.1L1093.4 234.1L1093.9 214.3L1094.4 233.7L1094.9 214.9L1095.4 232.9L1095.9 215.9L1096.4 232.8L1096.9 214.7L1097.4 234.1L1097.9 213.7L1098.4 234.8L1098.9 213.3L1099.4 234.8L1099.9 213.6L1100.4 234.3L1100.9 214.4L1101.4 233.1L1101.9 215.8L1102.4 231.5L1102.9 217.8L1103.4 231.3L1103.9 215.8L1104.4 233.4L1104.9 213.9L1105.4 235.2L1105.9 212.2L1106.4 236.6L1106.9 211L1107.4 237.6L1107.9 210.3L1108.4 238.1L1108.9 210L1109.4 238.1L1109.9 210.4L1110.4 237.4L1110.9 211.3L1111.4 236.2L1111.9 212.8L1112.4 234.4L1112.9 214.9L1113.4 232.1L1113.9 217.5L1114.4 229.3L1114.9 220.5L1115.4 226.1L1115.9 223.1L1116.4 225.6L1116.9 220.8L1117.4 229.2L1117.9 217.1L1118.4 232.9L1118.9 213.5L1119.4 236.5L1119.9 210L1120.4 239.8L1120.9 206.8L1121.4 242.8L1121.9 204.2L1122.4 245.2L1122.9 202.1L1123.4 246.9L1123.9 200.8L1124.4 247.8L1124.9 200.3L1125.4 247.8L1125.9 200.8L1126.4 246.8L1126.9 202.3L1127.4 244.7L1127.9 204.9L1128.4 241.6L1128.9 208.6L1129.4 237.4L1129.9 213.4L1130.4 232.1L1130.9 219.2L1131.4 225.8L1131.9 218.7L1132.4 234.6L1132.9 208.4L1133.4 245.2L1133.9 197.5L1134.4 256.2L1134.9 186.4L1135.4 267.5L1135.9 175L1136.4 278.9L1136.9 163.6L1137.4 290.2L1137.9 152.5L1138.4 301.2L1138.9 141.7L1139.4 311.7L1139.9 131.4L1140.4 321.6L1140.9 121.9L1141.4 330.7L1141.9 113.3L1142.4 338.8L1142.9 105.8L1143.4 345.7L1143.9 99.5L1144.4 351.4L1144.9 94.5L1145.4 355.7L1145.9 90.8L1146.4 358.6L1146.9 88.7L1147.4 360L1147.9 88.1L1148.4 359.8L1148.9 89L1149.4 358.1L1149.9 91.5L1150.4 355L1150.9 95.3L1151.4 350.4L1151.9 100.6L1152.4 344.4L1152.9 107.2L1153.4 337.2L1153.9 115L1154.4 329L1154.9 123.8L1155.4 319.7L1155.9 133.4L1156.4 309.7L1156.9 143.8L1157.4 299L1157.9 154.7L1158.4 287.9L1158.9 165.9L1159.4 276.6L1159.9 177.3L1160.4 265.2L1160.9 188.6L1161.4 254L1161.9 199.7L1162.4 243L1162.9 209.8L1163.4 242L1163.9 202.8L1164.4 248.7L1164.9 196.4L1165.4 254.7L1165.9 190.9L1166.4 259.7L1166.9 186.4L1167.4 263.6L1167.9 183L1168.4 266.4L1168.9 180.9L1169.4 267.9L1169.9 180.1L1170.4 268L1170.9 180.6L1171.4 266.8L1171.9 182.5L1172.4 264.3L1172.9 185.6L1173.4 260.6L1173.9 189.9L1174.4 255.8L1174.9 195.2L1175.4 250L1175.9 201.4L1176.4 243.4L1176.9 208.3L1177.4 236.2L1177.9 215.7L1178.4 228.7L1178.9 223.1L1179.4 226.8L1179.9 219.8L1180.4 229.9L1180.9 216.9L1181.4 232.6L1181.9 214.4L1182.4 234.8L1182.9 212.5L1183.4 236.5L1183.9 211.1L1184.4 237.6L1184.9 210.3L1185.4 238.1L1185.9 210L1186.4 238.1L1186.9 210.4L1187.4 237.5L1187.9 211.2L1188.4 236.4L1188.9 212.5L1189.4 234.9L1189.9 214.2L1190.4 233L1190.9 216.2L1191.4 230.9L1191.9 218.5L1192.4 228.6L1192.9 220.8L1193.4 228.3L1193.9 218.6L1194.4 230.8L1194.9 216.3L1195.4 233L1195.9 214.2L1196.4 234.9L1196.9 212.5L1197.4 236.4L1197.9 211.2L1198.4 237.4L1198.9 210.4L1199.4 238L1199.9 210.1L1200.4 238.1L1200.9 210.3L1201.4 237.6L1201.9 211L1202.4 236.6L1202.9 212.2L1203.4 235.2L1203.9 213.8L1204.4 233.4L1204.9 215.8L1205.4 231.5L1205.9 217.3L1206.4 230.1L1206.9 218.8L1207.4 228.5L1207.9 220.5L1208.4 226.8L1208.9 220.6L1209.4 228.6L1209.9 218.6L1210.4 230.5L1210.9 216.8L1211.4 232.2L1211.9 215.2L1212.4 233.6L1212.9 214L1213.4 234.7L1213.9 213.1L1214.4 235.3L1214.9 212.7L1215.4 235.6L1215.9 212.6L1216.4 235.4L1216.9 213L1217.4 234.8L1217.9 213.8L1218.4 233.9L1218.9 215L1219.4 232.5L1219.9 216.4L1220.4 230.9L1220.9 218.1L1221.4 229.6L1221.9 219.1L1222.4 228.5L1222.9 220.4L1223.4 227.2L1223.9 221.7L1224.4 226.5L1224.9 220.8L1225.4 228.2L1225.9 219.2L1226.4 229.7L1226.9 217.9L1227.4 230.9L1227.9 216.7L1228.4 232L1228.9 215.9L1229.4 232.7L1229.9 215.3L1230.4 233L1230.9 215.1L1231.4 233.1L1231.9 215.2L1232.4 232.8L1232.9 215.7L1233.4 232.1L1233.9 216.5L1234.4 231.2L1234.9 217.6L1235.4 229.9L1235.9 218.7L1236.4 229.2L1236.9 219.4L1237.4 228.3L1237.9 220.3L1238.4 227.4L1238.9 221.3L1239.4 228L1239.9 219.2L1240.4 230L1240.9 217.3L1241.4 231.8L1241.9 215.7L1242.4 233.2L1242.9 214.3L1243.4 234.4L1243.9 213.4L1244.4 235.2L1244.9 212.8L1245.4 235.6L1245.9 212.6L1246.4 235.5L1246.9 212.9L1247.4 235.1L1247.9 213.5L1248.4 234.2L1248.9 214.6L1249.4 233L1249.9 216L1250.4 231.4L1250.9 217.7L1251.4 229.6L1251.9 219.6L1252.4 228.2L1252.9 220.4L1253.4 227.4L1253.9 221.2L1254.4 226.6L1254.9 221.8L1255.4 227.4L1255.9 219.9L1256.4 229.1L1256.9 218.2L1257.4 230.7L1257.9 216.8L1258.4 232.1L1258.9 215.5L1259.4 233.2L1259.9 214.6L1260.4 233.9L1260.9 214.1L1261.4 234.3L1261.9 213.9L1262.4 234.3L1262.9 214.1L1263.4 233.9L1263.9 214.6L1264.4 233.2L1264.9 215.5L1265.4 232.1L1265.9 216.8L1266.4 230.7L1266.9 218.2L1267.4 229.1L1267.9 219.9L1268.4 227.5L1268.9 221.1L1269.4 226.8L1269.9 221.8L1270.4 226L1270.9 222.3L1271.4 226.5L1271.9 221.2L1272.4 227.5L1272.9 220.2L1273.4 228.5L1273.9 219.3L1274.4 229.3L1274.9 218.6L1275.4 229.8L1275.9 218.2L1276.4 230.2L1276.9 217.9L1277.4 230.3L1277.9 217.9L1278.4 230.2L1278.9 218.2L1279.4 229.8L1279.9 218.6L1280.4 229.3L1280.9 219.3L1281.4 228.5L1281.9 220.2L1282.4 227.8L1282.9 220.6L1283.4 227.4L1283.9 221L1284.4 226.9L1284.9 221.6L1285.4 226.2L1285.9 222.3L1286.4 226L1286.9 221.7L1287.4 227L1287.9 220.7L1288.4 227.9L1288.9 219.9L1289.4 228.6L1289.9 219.3L1290.4 229.2L1290.9 218.8L1291.4 229.5L1291.9 218.6L1292.4 229.7L1292.9 218.5L1293.4 229.6L1293.9 218.7L1294.4 229.4L1294.9 219.1L1295.4 228.9L1295.9 219.6L1296.4 228.2L1296.9 220.4L1297.4 227.6L1297.9 220.7L1298.4 227.3L1298.9 221.1L1299.4 226.9L1299.9 221.5L1300.4 226.4L1300.9 222.1L1301.4 225.8L1301.9 222.4L1302.4 226.3L1302.9 221.5L1303.4 227.2L1303.9 220.6L1304.4 227.9L1304.9 220L1305.4 228.5L1305.9 219.4L1306.4 229L1306.9 219.1L1307.4 229.2L1307.9 218.9L1308.4 229.3L1308.9 218.9L1309.4 229.2L1309.9 219.2L1310.4 228.8L1310.9 219.6L1311.4 228.3L1311.9 220.2L1312.4 227.6L1312.9 220.9L1313.4 227.2L1313.9 221.1L1314.4 226.9L1314.9 221.5L1315.4 226.5L1315.9 221.9L1316.4 226L1316.9 222.1L1317.4 226.5L1317.9 221.2L1318.4 227.3L1318.9 220.5L1319.4 228L1319.9 219.9L1320.4 228.6L1320.9 219.4L1321.4 228.9L1321.9 219.2L1322.4 229.1L1322.9 219.1L1323.4 229.1L1323.9 219.2L1324.4 228.9L1324.9 219.5L1325.4 228.5L1325.9 220L1326.4 227.9L1326.9 220.6L1327.4 227.2L1327.9 221.1L1328.4 227.1L1328.9 221.2L1329.4 226.9L1329.9 221.5L1330.4 226.6L1330.9 221.8L1331.4 226.2L1331.9 222.3L1332.4 225.7L1332.9 222.3L1333.4 226.2L1333.9 221.8L1334.4 226.6L1334.9 221.4L1335.4 226.9L1335.9 221.2L1336.4 227.1L1336.9 221.1L1337.4 227.1L1337.9 221.2L1338.4 227L1338.9 221.4L1339.4 226.7L1339.9 221.7L1340.4 227L1340.9 221.6L1341.4 226.3L1341.9 222.3L1342.4 225.5L1342.9 223.1L1343.4 224.8L1343.9 223.7L1344.4 224.3L1344.9 223.6L1345.4 224.9L1345.9 223L1346.4 225.6L1346.9 222.2L1347.4 226.3L1347.9 221.5L1348.4 227L1348.9 220.9L1349.4 227.6L1349.9 220.4L1350.4 228L1350.9 220.1L1351.4 228.1L1351.9 220L1352.4 228.1L1352.9 220.2L1353.4 227.9L1353.9 220.5L1354.4 227.4L1354.9 221.1L1355.4 226.8L1355.9 221.7L1356.4 226.1L1356.9 222.4L1357.4 225.4L1357.9 223.2L1358.4 224.7L1358.9 223.8L1359.4 224.3L1359.9 223.7L1360.4 224.8L1360.9 223L1361.4 225.5L1361.9 222.3L1362.4 226.2L1362.9 221.7L1363.4 226.8L1363.9 221.1L1364.4 227.3L1364.9 220.7L1365.4 227.7L1365.9 220.4L1366.4 227.9L1366.9 220.3L1367.4 227.8L1367.9 220.5L1368.4 227.6L1368.9 220.8L1369.4 227.2L1369.9 221.3L1370.4 226.6L1370.9 221.9L1371.4 226L1371.9 222.6L1372.4 225.3L1372.9 223.2L1373.4 224.7L1373.9 223.8L1374.4 224.3L1374.9 223.7L1375.4 224.8L1375.9 223.1L1376.4 225.4L1376.9 222.5L1377.4 226.1L1377.9 221.8L1378.4 226.6L1378.9 221.3L1379.4 227.1L1379.9 220.9L1380.4 227.4L1380.9 220.7L1381.4 227.6L1381.9 220.6L1382.4 227.5L1382.9 220.7L1383.4 227.3L1383.9 221L1384.4 226.9L1384.9 221.5L1385.4 226.4L1385.9 222L1386.4 225.8L1386.9 222.7L1387.4 225.2L1387.9 223.3L1388.4 224.7L1388.9 223.8L1389.4 224.3L1389.9 223.7L1390.4 224.8L1390.9 223.2L1391.4 225.3L1391.9 222.6L1392.4 225.9L1392.9 222L1393.4 226.4L1393.9 221.5L1394.4 226.9L1394.9 221.2L1395.4 227.2L1395.9 220.9L1396.4 227.3L1396.9 220.9L1397.4 227.3L1397.9 221L1398.4 227.1L1398.9 221.3L1399.4 226.7L1399.9 221.7L1400.4 226.3L1400.9 222.2L1401.4 225.7L1401.9 222.8L1402.4 225.1L1402.9 223.3L1403.4 224.6L1403.9 223.8L1404.4 224.3L1404.9 223.7L1405.4 224.7L1405.9 223.2L1406.4 225.2L1406.9 222.7L1407.4 225.8L1407.9 222.2L1408.4 226.2L1408.9 221.7L1409.4 226.6L1409.9 221.4L1410.4 226.9L1410.9 221.2L1411.4 227L1411.9 221.2L1412.4 227L1412.9 221.3L1413.4 226.8L1413.9 221.5L1414.4 226.5L1414.9 221.9L1415.4 226.1L1415.9 222.4L1416.4 225.6L1416.9 222.9L1417.4 225.1" stroke="#000" stroke-width="1.7" fill="none" stroke-linejoin="round"/>
<path d="M954.5 221.3L955 226.7L955.5 222.1L956 226L956.5 222.2L957 225.8L957.5 222.8L958 224.9L958.5 223.5L959 224.3L959.5 224L960 224.5L960.5 223.4L961 225.1L961.5 222.8L962 225.9L962.5 222.3L963 226.5L963.5 221.6L964 227.2L964.5 221.5L965 226.9L965.5 221.2L966 227.1L966.5 220.5L967 227.8L967.5 220.8L968 227.2L968.5 221.3L969 227.5L969.5 221L970 227.2L970.5 221.5L971 226.4L971.5 221.8L972 226L972.5 222.6L973 225.4L973.5 223.1L974 224.8L974.5 223.7L975 224.1L975.5 223.8L976 224.8L976.5 223L977 225.6L977.5 222.6L978 226.3L978.5 221.6L979 227.1L979.5 221.4L980 227.4L980.5 221.3L981 227.3L981.5 221.1L982 228.1L982.5 220.2L983 228.3L983.5 220.5L984 227.7L984.5 220.6L985 227.9L985.5 220.9L986 227.2L986.5 221.5L987 226.6L987.5 222.1L988 226.1L988.5 222.4L989 225.3L989.5 223.2L990 224.7L990.5 223.9L991 224.3L991.5 223.5L992 225.2L992.5 222.7L993 226.1L993.5 222.3L994 226.6L994.5 221.3L995 227.3L995.5 221.3L996 227.7L996.5 220.3L997 227.8L997.5 220.4L998 227.8L998.5 219.8L999 228.3L999.5 220.5L1000 227.8L1000.5 220.8L1001 228.3L1001.5 220.6L1002 227.7L1002.5 221.1L1003 226.5L1003.5 221.9L1004 225.9L1004.5 222.6L1005 225.2L1005.5 223.4L1006 224.4L1006.5 224L1007 224.6L1007.5 223.1L1008 225.5L1008.5 222.4L1009 226.6L1009.5 221.5L1010 227.4L1010.5 220.7L1011 228L1011.5 220.5L1012 228.2L1012.5 219.7L1013 229.2L1013.5 219.6L1014 228.6L1014.5 219.3L1015 229L1015.5 219.5L1016 228.3L1016.5 220.1L1017 228.6L1017.5 220.2L1018 227.7L1018.5 221.2L1019 226.8L1019.5 221.7L1020 226.2L1020.5 222.8L1021 225.1L1021.5 223.6L1022 224.1L1022.5 223.7L1023 225.1L1023.5 222.7L1024 226.1L1024.5 221.8L1025 226.7L1025.5 221.4L1026 227.9L1026.5 220L1027 228.2L1027.5 219.4L1028 229.6L1028.5 219.8L1029 229.4L1029.5 219.5L1030 229.6L1030.5 219.6L1031 229.4L1031.5 218.9L1032 229.7L1032.5 219.8L1033 228.4L1033.5 220.7L1034 228.2L1034.5 221.1L1035 227.1L1035.5 221.9L1036 226.1L1036.5 222.8L1037 224.9L1037.5 223.9L1038 224.5L1038.5 223.2L1039 225.5L1039.5 222.4L1040 226.9L1040.5 220.9L1041 227.4L1041.5 220.7L1042 228.7L1042.5 219L1043 228.8L1043.5 218.8L1044 229.3L1044.5 218.7L1045 229.7L1045.5 217.9L1046 229.8L1046.5 218L1047 230.2L1047.5 219.1L1048 229.2L1048.5 218.8L1049 229.3L1049.5 219.8L1050 228.1L1050.5 220.7L1051 227.3L1051.5 221.8L1052 225.8L1052.5 223.2L1053 224.6L1053.5 223.9L1054 224.9L1054.5 222.5L1055 226.1L1055.5 221.2L1056 227.5L1056.5 220.3L1057 228.6L1057.5 219L1058 229.9L1058.5 218.5L1059 230.7L1059.5 218L1060 231.2L1060.5 217.3L1061 232.2L1061.5 217.5L1062 231.4L1062.5 217L1063 230.6L1063.5 218.3L1064 230.5L1064.5 218.1L1065 229.6L1065.5 219L1066 228.9L1066.5 220.6L1067 227.5L1067.5 221.9L1068 225.7L1068.5 223.3L1069 224.1L1069.5 223.3L1070 225.6L1070.5 222L1071 227.3L1071.5 220L1072 228.8L1072.5 218.9L1073 229.5L1073.5 217.3L1074 230.7L1074.5 217.8L1075 231.8L1075.5 216.8L1076 233.5L1076.5 216.8L1077 233.1L1077.5 216.7L1078 232L1078.5 215.4L1079 231.9L1079.5 217.5L1080 232.4L1080.5 217.4L1081 230.1L1081.5 218.4L1082 228.5L1082.5 220.1L1083 227L1083.5 221.8L1084 225.4L1084.5 223.8L1085 224.8L1085.5 222.4L1086 226.8L1086.5 220.5L1087 229.4L1087.5 218.4L1088 231.2L1088.5 217.9L1089 232L1089.5 216.5L1090 234.5L1090.5 215.3L1091 235.8L1091.5 213.9L1092 235L1092.5 213L1093 234.6L1093.5 213.6L1094 235.1L1094.5 214.8L1095 235.7L1095.5 215.9L1096 233.1L1096.5 215.9L1097 231.3L1097.5 217.4L1098 229.1L1098.5 219.9L1099 227.6L1099.5 222.2L1100 225L1100.5 223.6L1101 225.8L1101.5 220.8L1102 228.3L1102.5 218.2L1103 231.1L1103.5 217.1L1104 233.7L1104.5 214.3L1105 236.7L1105.5 210.5L1106 239.5L1106.5 209.3L1107 238.9L1107.5 209.2L1108 240L1108.5 210.5L1109 241.8L1109.5 208.1L1110 239.2L1110.5 208.2L1111 240.5L1111.5 210.8L1112 238.1L1112.5 212.9L1113 235.1L1113.5 216L1114 231.2L1114.5 218.5L1115 227.8L1115.5 222.3L1116 224.2L1116.5 222.3L1117 228.6L1117.5 217.7L1118 233.4L1118.5 214.6L1119 235.6L1119.5 211.4L1120 241.1L1120.5 205.9L1121 246.8L1121.5 204.5L1122 247L1122.5 200.4L1123 248.7L1123.5 199.2L1124 248.2L1124.5 200.1L1125 253.2L1125.5 201.3L1126 253.8L1126.5 200.1L1127 249.5L1127.5 200.8L1128 248.2L1128.5 207L1129 243.6L1129.5 210.6L1130 234.6L1130.5 215.5L1131 229.4L1131.5 223.1L1132 227.5L1132.5 216.6L1133 236.5L1133.5 205.3L1134 249.2L1134.5 195.3L1135 262.9L1135.5 190.1L1136 266.8L1136.5 178.7L1137 288.1L1137.5 162L1138 296.9L1138.5 149.6L1139 308.2L1139.5 139.2L1140 321.8L1140.5 127.5L1141 331.8L1141.5 118.2L1142 340L1142.5 115.2L1143 344.9L1143.5 109.6L1144 350.8L1144.5 100.2L1145 356.7L1145.5 98.6L1146 355.7L1146.5 99.3L1147 360.1L1147.5 100.2L1148 354.3L1148.5 96.9L1149 355L1149.5 95.9L1150 357.4L1150.5 101.9L1151 348.3L1151.5 112.6L1152 341.7L1152.5 115.2L1153 332.8L1153.5 123.4L1154 327.8L1154.5 135.9L1155 315.2L1155.5 144.5L1156 304.1L1156.5 156.1L1157 293.5L1157.5 174.5L1158 274.1L1158.5 184.1L1159 266.2L1159.5 192.4L1160 254L1160.5 199.6L1161 245.2L1161.5 211L1162 234.5L1162.5 220.4L1163 224.4L1163.5 219.7L1164 232.7L1164.5 214.8L1165 238.8L1165.5 207L1166 245.6L1166.5 201.9L1167 246.1L1167.5 201.9L1168 248.6L1168.5 200.8L1169 254.2L1169.5 199.1L1170 252.4L1170.5 200.8L1171 248.5L1171.5 202.4L1172 251.5L1172.5 204.2L1173 243.9L1173.5 207L1174 244.8L1174.5 207.1L1175 240.6L1175.5 210.5L1176 234.2L1176.5 216.5L1177 230.6L1177.5 220.1L1178 226.6L1178.5 223.6L1179 225.8L1179.5 220.6L1180 229L1180.5 217.1L1181 233.1L1181.5 214.6L1182 236.8L1182.5 211.7L1183 238.4L1183.5 211.4L1184 239.7L1184.5 208.9L1185 238.3L1185.5 209L1186 238.9L1186.5 209.6L1187 241.7L1187.5 209.5L1188 239L1188.5 211.9L1189 237.8L1189.5 213.3L1190 235.1L1190.5 214.1L1191 232.1L1191.5 216.4L1192 229.8L1192.5 219.2L1193 228L1193.5 222L1194 224.8L1194.5 223.6L1195 226.2L1195.5 221.1L1196 228.5L1196.5 219.3L1197 231.2L1197.5 217.1L1198 232.8L1198.5 216.2L1199 234.6L1199.5 215.4L1200 235.6L1200.5 212.9L1201 235L1201.5 213.4L1202 236.7L1202.5 213.9L1203 236.4L1203.5 214.8L1204 233.9L1204.5 215.6L1205 232.9L1205.5 216L1206 231.9L1206.5 217.6L1207 229.4L1207.5 219.1L1208 227.7L1208.5 221L1209 226.2L1209.5 223.2L1210 224.2L1210.5 223.1L1211 226.2L1211.5 221.6L1212 228.3L1212.5 219.6L1213 229.6L1213.5 218.7L1214 230.5L1214.5 217.4L1215 232.3L1215.5 216L1216 233.4L1216.5 216.6L1217 232.7L1217.5 216.3L1218 233.7L1218.5 215.8L1219 232L1219.5 216.6L1220 232.6L1220.5 217.2L1221 230.3L1221.5 217.9L1222 230.1L1222.5 219.3L1223 228L1223.5 221.2L1224 226.9L1224.5 222.3L1225 225.1L1225.5 223.9L1226 224.7L1226.5 222.7L1227 226.4L1227.5 221.2L1228 227.3L1228.5 220.4L1229 229.4L1229.5 219.6L1230 230.6L1230.5 218.1L1231 229.9L1231.5 218.1L1232 230.8L1232.5 217.2L1233 232L1233.5 217.5L1234 232L1234.5 217.1L1235 231.1L1235.5 217.3L1236 230.4L1236.5 219.1L1237 229.1L1237.5 219.6L1238 228.2L1238.5 220.7L1239 227.4L1239.5 222L1240 225.8L1240.5 223.2L1241 224.4L1241.5 223.8L1242 225.1L1242.5 222.7L1243 226.4L1243.5 221.3L1244 227.3L1244.5 220.8L1245 228.2L1245.5 219.8L1246 228.8L1246.5 219.2L1247 229.7L1247.5 218.5L1248 230.5L1248.5 218.5L1249 230.9L1249.5 218.3L1250 229.7L1250.5 218.9L1251 229.5L1251.5 218.8L1252 229.2L1252.5 219.7L1253 228.2L1253.5 220.5L1254 227.2L1254.5 221.8L1255 226.5L1255.5 222.6L1256 225.1L1256.5 223.6L1257 224.2L1257.5 223.6L1258 225.5L1258.5 222.5L1259 226.6L1259.5 221.7L1260 227L1260.5 220.7L1261 228.5L1261.5 220.1L1262 228.7L1262.5 219.8L1263 229.2L1263.5 219.4L1264 229L1264.5 219.1L1265 229.6L1265.5 219.7L1266 229.6L1266.5 219.7L1267 229L1267.5 220.2L1268 228.6L1268.5 221L1269 227.6L1269.5 221L1270 226.8L1270.5 222.1L1271 225.9L1271.5 223.1L1272 224.7L1272.5 224L1273 224.5L1273.5 223.2L1274 225.6L1274.5 222.5L1275 226.1L1275.5 221.6L1276 227.4L1276.5 221.1L1277 228L1277.5 220.1L1278 228.8L1278.5 220.2L1279 228.3L1279.5 219.9L1280 228.9L1280.5 219.8L1281 229.1L1281.5 220.3L1282 228.7L1282.5 220.3L1283 227.8L1283.5 220.9L1284 227.6L1284.5 221L1285 226.8L1285.5 221.7L1286 225.9L1286.5 222.6L1287 225.1L1287.5 223.4L1288 224.3L1288.5 223.9L1289 224.8L1289.5 223L1290 225.8L1290.5 222.4L1291 226.5L1291.5 221.5L1292 227.2L1292.5 221L1293 227.7L1293.5 220.7L1294 227.9L1294.5 220.2L1295 227.8L1295.5 220.5L1296 228.8L1296.5 220.5L1297 227.8L1297.5 220.6L1298 228.3L1298.5 221L1299 227.4L1299.5 220.8L1300 227.4L1300.5 222L1301 226.3L1301.5 222.2L1302 225.8L1302.5 223L1303 224.9L1303.5 223.8L1304 224.2L1304.5 223.6L1305 224.9L1305.5 223L1306 225.9L1306.5 222.4L1307 226.3L1307.5 221.8L1308 226.8L1308.5 221.5L1309 227.2L1309.5 221.1L1310 228L1310.5 220.8L1311 227.9L1311.5 220.7L1312 228L1312.5 220.9L1313 227.7L1313.5 220.6L1314 227.7L1314.5 220.9L1315 227.1L1315.5 221.3L1316 226.6L1316.5 221.9L1317 225.9L1317.5 222.7L1318 225.2L1318.5 223.4L1319 224.6L1319.5 224.1L1320 224.4L1320.5 223.5L1321 225.1L1321.5 222.9L1322 225.8L1322.5 222.2L1323 226.1L1323.5 221.5L1324 226.8L1324.5 221.4L1325 227.6L1325.5 221.1L1326 227.3L1326.5 221.2L1327 227.7L1327.5 221.2L1328 227.5L1328.5 220.9L1329 227.1L1329.5 220.8L1330 226.9L1330.5 221.6L1331 226.8L1331.5 222.1L1332 226.2L1332.5 222.4L1333 225.6L1333.5 223.1L1334 225L1334.5 223.6L1335 224.3L1335.5 223.9L1336 224.6L1336.5 223.3L1337 225.2L1337.5 222.7L1338 225.8L1338.5 222.1L1339 226.4L1339.5 222.1" stroke="#ff0000" stroke-width="1.9" fill="none" stroke-linejoin="round"/>
</g>
<g clip-path="url(#cc)">
<path d="M538.8 736.1H1138.6" stroke="#000" stroke-width="1.8" fill="none"/>
<path d="M538.8 735.3L539.3 736.9L539.9 735.2L540.4 737L541 735.2L541.5 736.9L542.1 735.3L542.6 736.9L543.2 735.2L543.8 736.9L544.3 735.3L544.8 736.9L545.4 735.2L545.9 737L546.5 735.2L547 737L547.6 735.3L548.1 736.9L548.7 735.2L549.2 737.2L549.8 734.9L550.3 737.5L550.9 734.2L551.4 738.1L552 733.9L552.5 738.2L553.1 733.9L553.6 738.6L554.2 733.7L554.8 739.2L555.3 733.1L555.8 739.1L556.4 733L556.9 739.4L557.5 733.1L558 739.5L558.6 732.5L559.1 739.4L559.7 733L560.2 739.2L560.8 732.8L561.3 740.1L561.9 732.1L562.4 739.4L563 732.7L563.5 739.3L564.1 733L564.6 739.4L565.2 732.3L565.8 739L566.3 733L566.8 739L567.4 733.6L567.9 738.9L568.5 733.6L569 738.7L569.6 733.9L570.1 738L570.7 734.4L571.2 737.8L571.8 734.6L572.3 737.5L572.9 735L573.4 737L574 735.3L574.5 737L575.1 735.2L575.6 737L576.2 735.2L576.8 736.9L577.3 735.2L577.8 736.9L578.4 734.7L578.9 737.5L579.5 734.5L580 737.9L580.6 734.3L581.1 738.2L581.7 733.7L582.2 738.9L582.8 733.4L583.3 738.6L583.9 733.5L584.4 738.8L585 732.8L585.5 739.9L586.1 733L586.6 739.2L587.2 732.8L587.8 739.2L588.3 732L588.8 739.8L589.4 732.2L589.9 739.9L590.5 732.3L591 739.5L591.6 732.8L592.1 740.4L592.7 732.1L593.2 739.3L593.8 732.7L594.3 739.1L594.9 733L595.4 739.8L596 732.7L596.5 738.8L597.1 733.4L597.6 738.5L598.2 733.6L598.8 738.5L599.3 733.7L599.8 737.9L600.4 734.4L600.9 737.7L601.5 734.7L602 737.4L602.6 735.1L603.1 736.9L603.7 735.3L604.2 737L604.8 735.2L605.3 736.9L605.9 735.3L606.4 736.9L607 735.2L607.5 737L608.1 735L608.6 737.7L609.2 734.2L609.8 738.4L610.3 733.9L610.8 738.3L611.4 733.4L611.9 738.8L612.5 732.6L613 739.6L613.6 732.9L614.1 739.8L614.7 732L615.2 740.1L615.8 731.4L616.3 740.8L616.9 732.1L617.4 740.1L618 731.3L618.5 740.3L619.1 731.1L619.6 741.1L620.2 731.6L620.8 740.9L621.3 731.8L621.8 740.4L622.4 731L622.9 740.9L623.5 731.6L624 740.7L624.6 731.9L625.1 740L625.7 731.3L626.2 740.3L626.8 732.2L627.3 739.8L627.9 732.8L628.4 739.1L629 732.7L629.5 739.4L630.1 733.1L630.6 738.3L631.2 734.2L631.8 737.9L632.3 734.4L632.8 737.5L633.4 734.9L633.9 737L634.5 735.3L635 736.9L635.6 735.3L636.1 737L636.7 734.8L637.2 737.5L637.8 734.3L638.3 738.2L638.9 733.7L639.4 739L640 732.7L640.5 739.2L641.1 732.7L641.6 739.7L642.2 732L642.8 741.2L643.3 731.6L643.8 741.4L644.4 731.2L644.9 740.8L645.5 731.4L646 742.3L646.6 730.2L647.1 742.4L647.7 730.8L648.2 741.9L648.8 730.2L649.3 741.1L649.9 730.2L650.4 742.4L651 730.7L651.5 741.7L652.1 731.1L652.6 741.4L653.2 730.6L653.8 741.6L654.3 731.5L654.8 740.4L655.4 731.4L655.9 740.8L656.5 731L657 741L657.6 732.1L658.1 739.9L658.7 732.9L659.2 738.9L659.8 732.9L660.3 738.7L660.9 734.1L661.4 738.1L662 734.5L662.5 737.4L663.1 734.9L663.6 736.9L664.2 735.2L664.8 736.9L665.3 735.3L665.8 736.9L666.4 735.1L666.9 737.5L667.5 734.3L668 738L668.6 734.1L669.1 738.3L669.7 733.2L670.2 739.9L670.8 732.1L671.3 739.8L671.9 732.5L672.4 739.9L673 732.1L673.5 741.8L674.1 730.9L674.6 740.8L675.2 731.2L675.8 740.9L676.3 730.3L676.8 742.8L677.4 729.9L677.9 741.3L678.5 730.6L679 742L679.6 730.4L680.1 742.5L680.7 728.9L681.2 743L681.8 730.2L682.3 742.1L682.9 730.6L683.4 742.7L684 729.7L684.5 742.4L685.1 731.3L685.6 741.3L686.2 731.7L686.8 740.7L687.3 730.9L687.8 740.3L688.4 732.2L688.9 739.3L689.5 733.2L690 738.8L690.6 732.9L691.1 738.8L691.7 734L692.2 737.6L692.8 734.9L693.3 737.1L693.9 735.3L694.4 737L695 735.3L695.5 736.9L696.1 735.3L696.6 737.2L697.2 734.3L697.8 738.5L698.3 733.8L698.8 738.9L699.4 732.7L699.9 739.5L700.5 731.2L701 741.3L701.6 730.2L702.1 741.4L702.7 730.9L703.2 742.1L703.8 728.6L704.3 743.5L704.9 728.1L705.4 742.5L706 728.5L706.5 742.8L707.1 728.1L707.6 744.3L708.2 727.4L708.8 744.3L709.3 728.2L709.8 744.3L710.4 727.9L710.9 745.8L711.5 726.7L712 743.2L712.6 729.1L713.1 743.1L713.7 728.1L714.2 744.9L714.8 728.4L715.3 743.5L715.9 729.7L716.4 742.7L717 730.5L717.5 743.4L718.1 730.1L718.6 742.2L719.2 731L719.8 740.9L720.3 732.3L720.8 740.3L721.4 732.2L721.9 739.4L722.5 733.9L723 738.1L723.6 734.6L724.1 737.2L724.7 735.2L725.2 736.9L725.8 735.3L726.3 737L726.9 735.2L727.4 737.5L728 734L728.5 738.9L729.1 733L729.6 739.8L730.2 732.1L730.8 740.5L731.3 730.5L731.8 742.5L732.4 729.7L732.9 743.1L733.5 729.4L734 743.6L734.6 727.5L735.1 746.2L735.7 728.1L736.2 745.1L736.8 727.6L737.3 744.8L737.9 725L738.4 748.4L739 725.4L739.5 746.2L740.1 726.6L740.6 746.7L741.2 725.3L741.8 747.4L742.3 723.9L742.8 746.9L743.4 725.7L743.9 746L744.5 725.4L745 747.3L745.6 725L746.1 745.3L746.7 726.5L747.2 744.5L747.8 728.2L748.3 744.9L748.9 726.9L749.4 743.1L750 729.1L750.5 742.2L751.1 729.7L751.6 742.1L752.2 730.8L752.8 740.6L753.3 732.1L753.8 739.5L754.4 733.2L754.9 739L755.5 734.2L756 737.6L756.6 735.2L757.1 737L757.7 734.6L758.2 738.3L758.8 732.8L759.3 740.2L759.9 732.4L760.4 740.8L761 730.6L761.5 741.6L762.1 729L762.6 743.9L763.2 729.1L763.8 744.3L764.3 728.5L764.8 744.4L765.4 724.8L765.9 747.7L766.5 726.4L767 746.2L767.6 725.4L768.1 747.4L768.7 723.3L769.2 749.7L769.8 725.1L770.3 746.7L770.9 724L771.4 747.4L772 723.3L772.5 750.2L773.1 725.3L773.6 746.6L774.2 724.7L774.8 747.3L775.3 724.2L775.8 748.4L776.4 723.8L776.9 745.4L777.5 726.8L778 745.7L778.6 726.7L779.1 746.4L779.7 726.5L780.2 743.1L780.8 729.3L781.3 742.3L781.9 730.3L782.4 742.2L783 729.8L783.5 740.6L784.1 732.5L784.6 739.1L785.2 733.3L785.8 738.5L786.3 734.5L786.8 738.6L787.4 732.7L788 740.8L788.5 730.7L789 743.4L789.6 727L790.1 744.8L790.7 727.8L791.2 745.6L791.8 726.1L792.3 749.3L792.9 722.4L793.5 750.4L794 723.1L794.5 751.9L795.1 721.2L795.6 755.4L796.2 717.5L796.8 756.7L797.3 718.6L797.8 752.8L798.4 718L799 755.8L799.5 713.9L800 759L800.6 717.9L801.1 756.7L801.7 715.4L802.2 755.7L802.8 711.1L803.3 759.2L803.9 717.6L804.5 756.1L805 715.4L805.5 755.9L806.1 713.7L806.6 759.7L807.2 716.1L807.8 755.6L808.3 717.5L808.8 753.8L809.4 715.7L810 756L810.5 719.2L811 751.1L811.6 722.5L812.1 749.6L812.7 721.2L813.2 749.9L813.8 722.1L814.3 746.3L814.9 726.3L815.5 744.9L816 727.1L816.5 744.3L817.1 728.8L817.6 741.4L818.2 731.8L818.8 739.2L819.3 733.9L819.8 737.4L820.4 735.2L821 737.9L821.5 730.9L822 745.8L822.6 723.4L823.1 755.2L823.7 712.2L824.2 757.3L824.8 708.7L825.3 764.4L825.9 701.4L826.5 780.9L827 693.9L827.5 778.2L828.1 688.3L828.6 784.1L829.2 685.9L829.8 794.3L830.3 668.2L830.8 805.6L831.4 681.6L832 795L832.5 668.7L833 814.5L833.6 655.6L834.1 814.3L834.7 666.4L835.2 804.5L835.8 665.9L836.3 811.8L836.9 649.9L837.5 823.7L838 659.8L838.5 817.5L839.1 658L839.6 816.2L840.2 645.4L840.8 840.9L841.3 656.9L841.8 828.1L842.4 655.4L843 819.5L843.5 637.6L844 826.6L844.6 652.5L845.1 822L845.7 655.6L846.2 815.3L846.8 639.5L847.3 836.6L847.9 650.7L848.5 821.4L849 654.7L849.5 823.8L850.1 635.8L850.6 833.6L851.2 635.7L851.8 822.5L852.3 657.3L852.8 813L853.4 642.2L854 829.5L854.5 640.1L855 815.7L855.6 656L856.1 809.1L856.7 664.8L857.2 824.1L857.8 661.9L858.3 805.1L858.9 675L859.5 795.4L860 680.1L860.5 807.8L861.1 669.7L861.6 786.2L862.2 680.2L862.8 789L863.3 690.3L863.8 786.9L864.4 692.1L865 772.3L865.5 701.3L866 765.3L866.6 707.4L867.1 765.8L867.7 711L868.2 758.5L868.8 720.3L869.3 747.8L869.9 727.6L870.5 740.9L871 734.9L871.5 738.7L872.1 732.4L872.6 740.8L873.2 730.3L873.8 742.9L874.3 726.9L874.8 746L875.4 726.8L876 747.4L876.5 723.7L877 749.1L877.6 721L878.1 754.2L878.7 720.1L879.2 752.1L879.8 717.3L880.3 755.3L880.9 715.5L881.5 758.1L882 715.5L882.5 758.8L883.1 715.7L883.6 757.7L884.2 711L884.8 760.8L885.3 714.1L885.8 760.3L886.4 710.5L887 761.3L887.5 707.7L888 764.6L888.6 706L889.1 761.9L889.7 712.3L890.2 759.9L890.8 707.4L891.3 761.4L891.9 709.5L892.5 761L893 713.1L893.5 757.2L894.1 713.7L894.6 759.8L895.2 710.3L895.8 756.6L896.3 718.2L896.8 754.1L897.4 719.1L898 756.5L898.5 717.8L899 750.8L899.6 721.6L900.1 748.7L900.7 724.3L901.2 747.6L901.8 724.9L902.3 744.9L902.9 728L903.5 742.9L904 731L904.5 741.3L905.1 732.4L905.6 738.3L906.2 735.2L906.8 737.6L907.3 733.9L907.8 739.3L908.4 731.7L909 741.4L909.5 731.5L910 741.7L910.6 730.3L911.1 742.9L911.7 727.2L912.2 745.5L912.8 727.2L913.3 744.3L913.9 726.9L914.5 746.1L915 724.2L915.5 748.6L916.1 724.3L916.6 746.6L917.2 724.7L917.8 747L918.3 722L918.8 750L919.4 723.2L920 749.6L920.5 724.4L921 748L921.6 720.9L922.1 749.8L922.7 724.2L923.2 749L923.8 724L924.3 747.3L924.9 722.2L925.5 748.7L926 722.2L926.5 747.4L927.1 725.7L927.6 747L928.2 724.1L928.8 746.5L929.3 725.5L929.8 744.3L930.4 727.6L931 744.1L931.5 728.9L932 744L932.6 729.8L933.1 741.5L933.7 731.5L934.2 740.3L934.8 732.8L935.3 739.2L935.9 733.8L936.5 737.5L937 735.2L937.5 736.9L938.1 734.9L938.6 738L939.2 733.7L939.8 738.6L940.3 733.2L940.8 739.5L941.4 732.7L942 740.7L942.5 730.9L943 741.2L943.6 730.9L944.1 741.4L944.7 731L945.2 743.1L945.8 729.2L946.3 742.8L946.9 730.1L947.5 743L948 729.3L948.5 742.6L949.1 727.9L949.6 743.6L950.2 728.7L950.8 742.6L951.3 729L951.8 743.6L952.4 727.8L953 744.8L953.5 729.4L954 743.3L954.6 729.8L955.1 742.6L955.7 728.4L956.2 743.7L956.8 730.2L957.3 742.2L957.9 730.9L958.5 741.8L959 730.3L959.5 741.6L960.1 731.5L960.6 740L961.2 732.3L961.8 739.4L962.3 732.6L962.8 739.3L963.4 733.4L964 738.1L964.5 734.5L965 737.1L965.6 735.2L966.1 737.2L966.7 734.5L967.2 737.8L967.8 734L968.3 738.5L968.9 733.3L969.5 739.9L970 732.1L970.5 739.9L971.1 731.9L971.6 740.2L972.2 731.5L972.8 741.7L973.3 730.7L973.8 741L974.4 731.1L975 741.3L975.5 730L976 743.2L976.6 728.6L977.1 742L977.7 730.1L978.2 742.5L978.8 729.7L979.3 743.3L979.9 729L980.5 743.8L981 730.2L981.5 742.5L982.1 730.1L982.6 743.5L983.2 728.8L983.8 742.3L984.3 730.7L984.8 741.3L985.4 730.4L986 741.5L986.5 730.2L987 741.7L987.6 731.7L988.1 740.2L988.7 732.1L989.2 739.6L989.8 732.6L990.3 739.5L990.9 733.8L991.5 738.2L992 734.4L992.5 737.6L993.1 734.9L993.6 736.9L994.2 735.3L994.8 737L995.3 735.3L995.8 736.9L996.4 734.9L997 737.8L997.5 734.5L998 738.1L998.6 733.5L999.1 739L999.7 732.3L1000.2 739.9L1000.8 731.5L1001.3 739.9L1001.9 731.9L1002.5 741.1L1003 730.6L1003.5 742.2L1004.1 730.1L1004.6 741.4L1005.2 730L1005.8 742.6L1006.3 730.3L1006.8 743.6L1007.4 729.1L1008 742.5L1008.5 729.6L1009 742.5L1009.6 729.4L1010.1 744.2L1010.7 727.4L1011.2 742.8L1011.8 729.1L1012.3 743L1012.9 729.8L1013.5 744.5L1014 728.7L1014.5 743.2L1015.1 729.9L1015.6 742L1016.2 729.8L1016.8 742.9L1017.3 730L1017.8 742.3L1018.4 730.9L1019 741.3L1019.5 731.1L1020 741.3L1020.6 731.3L1021.1 740.7L1021.7 732.5L1022.2 739.4L1022.8 733.4L1023.3 738.5L1023.9 733.6L1024.5 738.2L1025 734.7L1025.5 737.1L1026.1 735.3L1026.7 736.9L1027.2 735.2L1027.8 736.9L1028.3 735.2L1028.8 736.9L1029.4 735.2L1030 736.9L1030.5 734.9L1031 737.5L1031.6 734.6L1032.2 737.7L1032.7 734.3L1033.2 738.2L1033.8 733.6L1034.3 738.8L1034.9 733.3L1035.5 739L1036 733.1L1036.5 739.3L1037.1 732.1L1037.7 740.1L1038.2 731.9L1038.8 739.5L1039.3 732.4L1039.8 740.1L1040.4 731.5L1041 740.6L1041.5 731.4L1042 740.3L1042.6 731.9L1043.2 740.4L1043.7 732.5L1044.2 740.5L1044.8 731.3L1045.3 739.8L1045.9 732.6L1046.5 739.8L1047 732.2L1047.5 740.2L1048.1 732.1L1048.7 739.6L1049.2 733L1049.8 739.4L1050.3 733.5L1050.8 739.2L1051.4 733.2L1052 738.3L1052.5 734L1053 738.1L1053.6 734.3L1054.2 738L1054.7 734.4L1055.2 737.3L1055.8 735L1056.3 737.3L1056.9 734.8L1057.5 737.3L1058 735L1058.5 737.2L1059.1 734.8L1059.7 737.2L1060.2 735L1060.8 737.2L1061.3 734.6L1061.8 737.9L1062.4 734.5L1063 738.1L1063.5 733.9L1064 738.5L1064.6 733L1065.2 739.2L1065.7 732.9L1066.2 739.6L1066.8 732.7L1067.3 739.6L1067.9 732L1068.5 740.5L1069 732.3L1069.5 740L1070.1 731.8L1070.7 740.5L1071.2 730.6L1071.8 741.6L1072.3 731.5L1072.8 741.1L1073.4 731.5L1074 741.1L1074.5 730.5L1075 741.2L1075.6 730.2L1076.2 741.2L1076.7 731.4L1077.2 740.9L1077.8 731.1L1078.3 741.7L1078.9 731.4L1079.5 740.1L1080 732.2L1080.5 740.1L1081.1 732.1L1081.7 740.2L1082.2 732.1L1082.8 739.5L1083.3 732.9L1083.8 739.1L1084.4 733.5L1085 738.8L1085.5 733.6L1086 738.3L1086.6 734.2L1087.2 737.7L1087.7 734.8L1088.2 737.4L1088.8 734.8L1089.3 737.4L1089.9 734.9L1090.5 737.3L1091 735L1091.5 737.2L1092.1 735L1092.7 737.2L1093.2 735L1093.8 737.4L1094.3 734.8L1094.8 738L1095.4 734.2L1096 738.1L1096.5 734.1L1097 738.1L1097.6 734.2L1098.2 738.3L1098.7 733.5L1099.2 738.9L1099.8 733.6L1100.3 738.4L1100.9 733.3L1101.5 738.8L1102 733.1L1102.5 739.2L1103.1 733.2L1103.7 738.7L1104.2 733.4L1104.8 738.7L1105.3 733L1105.8 739.2L1106.4 733.5L1107 738.7L1107.5 733.4L1108 738.7L1108.6 733.5L1109.2 738.8L1109.7 733.7L1110.2 738.1L1110.8 734L1111.3 738.2L1111.9 734L1112.5 738.2L1113 734.3L1113.5 737.5L1114.1 734.7L1114.7 737.3L1115.2 734.8L1115.8 737.3L1116.3 734.9L1116.8 737.4L1117.4 734.9L1118 737.4L1118.5 734.9L1119 737.2L1119.6 734.9L1120.2 737.3L1120.7 735L1121.2 737.5L1121.8 734.8L1122.3 737.9L1122.9 733.9L1123.5 737.9L1124 734L1124.5 738.4L1125.1 734L1125.7 738.8L1126.2 733.4L1126.8 738.8L1127.3 733.6L1127.8 739L1128.4 733.2L1129 739.4L1129.5 732.6L1130 739.3L1130.6 733.1L1131.2 739L1131.7 733.4L1132.2 739.4L1132.8 733.1L1133.3 739.2L1133.9 733.6L1134.5 738.7L1135 733.7L1135.5 738.4L1136.1 733.2L1136.7 738.7L1137.2 733.9L1137.8 738.1L1138.3 734.2L1138.8 737.8" stroke="#000" stroke-width="1.2" fill="none" stroke-linejoin="miter"/>
<path d="M655 734.3L655.5 737.7L656 734.9L656.5 737.1L657 735.3L657.5 736.8L658 735.8L658.5 736.2L659 735.9L659.5 736.5L660 735.4L660.5 736.9L661 735L661.5 737.6L662 734.4L662.5 738L663 734.3L663.5 738.3L664 733.6L664.5 738.9L665 733.4L665.5 738.5L666 733.3L666.5 738.8L667 733.4L667.5 738.7L668 733.5L668.5 738.9L669 734L669.5 738.4L670 734.2L670.5 737.9L671 734.6L671.5 737.8L672 734.8L672.5 737.2L673 735.4L673.5 736.5L674 735.9L674.5 736.2L675 735.7L675.5 736.7L676 735.2L676.5 737.3L677 734.7L677.5 738L678 734.4L678.5 738.3L679 734.1L679.5 738.5L680 733.3L680.5 739L681 733.1L681.5 738.7L682 733.3L682.5 739.4L683 733L683.5 739.1L684 733.4L684.5 738.7L685 733.6L685.5 738.6L686 733.7L686.5 738L687 734.4L687.5 737.8L688 734.9L688.5 736.9L689 735.4L689.5 736.4L690 736.1L690.5 736.4L691 735.5L691.5 737L692 734.8L692.5 737.6L693 734.4L693.5 737.9L694 734.2L694.5 738.9L695 733.5L695.5 738.8L696 733.5L696.5 739L697 733.1L697.5 739.3L698 732.8L698.5 739.5L699 733.2L699.5 738.9L700 733.5L700.5 738.8L701 733.4L701.5 738.4L702 734.1L702.5 738.1L703 734.5L703.5 737.6L704 735L704.5 736.9L705 735.6L705.5 736.2L706 735.9L706.5 736.6L707 735.2L707.5 737.4L708 734.5L708.5 738.1L709 733.9L709.5 738.8L710 733.2L710.5 738.8L711 733L711.5 739.5L712 732.8L712.5 739.8L713 732.3L713.5 740.2L714 732.4L714.5 739.9L715 732.9L715.5 739.5L716 733.3L716.5 739.3L717 733.6L717.5 738.7L718 733.6L718.5 738.3L719 734.5L719.5 737.3L720 735.1L720.5 736.7L721 735.9L721.5 736.2L722 735.5L722.5 737L723 735L723.5 737.9L724 734L724.5 738.8L725 733.3L725.5 739.3L726 733.1L726.5 739.9L727 732.4L727.5 740.3L728 732.3L728.5 739.8L729 732.3L729.5 740.6L730 732.4L730.5 739.7L731 732.4L731.5 740.3L732 732.9L732.5 739.1L733 733L733.5 739.1L734 733.6L734.5 738.2L735 734.6L735.5 737.3L736 735.4L736.5 736.6L737 736.1L737.5 736.5L738 735.3L738.5 737.5L739 734.5L739.5 738.4L740 733.3L740.5 739.2L741 732.5L741.5 739.6L742 732.2L742.5 740.3L743 732L743.5 741L744 731.5L744.5 741.5L745 732L745.5 740.8L746 732.1L746.5 741.2L747 732L747.5 740.1L748 732.1L748.5 740.1L749 732.6L749.5 739.3L750 733.8L750.5 738.4L751 734.6L751.5 737.3L752 735.5L752.5 736.2L753 735.7L753.5 737L754 734.8L754.5 738.1L755 733.9L755.5 739.2L756 733L756.5 739.6L757 732.4L757.5 740.9L758 731.8L758.5 740.6L759 730.9L759.5 741.9L760 730.7L760.5 741.2L761 730.1L761.5 742.4L762 730.8L762.5 741.2L763 731.5L763.5 741.1L764 732.3L764.5 740.5L765 732.8L765.5 739.6L766 733.2L766.5 738.5L767 734.4L767.5 737.1L768 735.7L768.5 736.4L769 735.3L769.5 737.7L770 733.9L770.5 739.1L771 733.1L771.5 739.6L772 731.5L772.5 741.6L773 731.3L773.5 742.2L774 730.9L774.5 742.5L775 729.9L775.5 743.2L776 729.9L776.5 743.1L777 729.2L777.5 742.2L778 729.1L778.5 742.1L779 729.6L779.5 741.6L780 730.9L780.5 740.4L781 731.7L781.5 739.6L782 733.3L782.5 738.1L783 734.8L783.5 736.8L784 736L784.5 737L785 734.4L785.5 738.6L786 732.8L786.5 740.4L787 731.9L787.5 741.3L788 730L788.5 741.9L789 728.7L789.5 743.6L790 727.7L790.5 743.8L791 728.5L791.5 745.5L792 728L792.5 744.3L793 727.1L793.5 745.1L794 728L794.5 743.4L795 728.2L795.5 742.8L796 730.1L796.5 741.9L797 731.4L797.5 739.8L798 732.8L798.5 738.1L799 734.8L799.5 736.3L800 735.4L800.5 738.1L801 733.5L801.5 739.6L802 731L802.5 742.9L803 728.7L803.5 743.1L804 726.6L804.5 744.8L805 725.3L805.5 746.5L806 723.9L806.5 749L807 724.8L807.5 749.9L808 723.5L808.5 747.3L809 724.8L809.5 747L810 726.2L810.5 748.5L811 725.5L811.5 745L812 728.2L812.5 744.6L813 729.9L813.5 741.6L814 732.4L814.5 738.7L815 735.2L815.5 736.7L816 733.8L816.5 739.7L817 730.2L817.5 743.4L818 726.8L818.5 746.8L819 723.6L819.5 749L820 720.5L820.5 751.4L821 719.4L821.5 756.3L822 716.8L822.5 756.2L823 718.3L823.5 758L824 714.2L824.5 754.9L825 717.8L825.5 755.5L826 716L826.5 756.5L827 718.1L827.5 754.1L828 720.5L828.5 748.8L829 725.7L829.5 744.1L830 730.6L830.5 739.1L831 735.7L831.5 740L832 735.3L832.5 740.8L833 728.1L833.5 747.4L834 721.2L834.5 756.5L835 710.5L835.5 768L836 701.8L836.5 771.1L837 689.9L837.5 789.1L838 680.6L838.5 800L839 674.7L839.5 810.1L840 664.3L840.5 812.7L841 654.4L841.5 822.2L842 648.4L842.5 831.5L843 641.4L843.5 837.8L844 642.1L844.5 836L845 641.1L845.5 842.3L846 639.4L846.5 839.9L847 639L847.5 838L848 636.3L848.5 834.4L849 634.6L849.5 833.5L850 645.5L850.5 830.5L851 648.8L851.5 820.8L852 652.8L852.5 816.3L853 663.6L853.5 809.7L854 671.5L854.5 800.6L855 679.3L855.5 790L856 689.2L856.5 781.5L857 701.8L857.5 768.1L858 707.6L858.5 758.7L859 716.9L859.5 749.2L860 726.1L860.5 742.1L861 733.8L861.5 741.6L862 734.2L862.5 737.7L863 732.3L863.5 743.2L864 726.9L864.5 747.9L865 723.8L865.5 752.8L866 718.3L866.5 753.1L867 717.2L867.5 755.7L868 717.7L868.5 755.2L869 717.5L869.5 759.7L870 715.4L870.5 754.8L871 718.7L871.5 756.7L872 717.5L872.5 753.8L873 719.8L873.5 750.7L874 724.9L874.5 747.1L875 726.9L875.5 744.8L876 729.9L876.5 740.1L877 733.4L877.5 737.4L878 735.9L878.5 737.7L879 733.2L879.5 741.1L880 730.7L880.5 743.5L881 728.2L881.5 745.9L882 726.1L882.5 747.3L883 724.8L883.5 749.4L884 723.4L884.5 748.4L885 722.7L885.5 749.6L886 724.8L886.5 748.9L887 724.4L887.5 748L888 726.7L888.5 747L889 727.6L889.5 743.7L890 728.5L890.5 742.7L891 731.2L891.5 740.4L892 732.8L892.5 738.6L893 734.9L893.5 736.3L894 735.3L894.5 738.1L895 733.3L895.5 739.7L896 732L896.5 741.7L897 730L897.5 742.8L898 729.8L898.5 744.6L899 729.1L899.5 744.2L900 727.4L900.5 744.7L901 727.1L901.5 745.9L902 728.2L902.5 744.9L903 728.2L903.5 744L904 729.7L904.5 742.5L905 729.3L905.5 741.6L906 731.3L906.5 740.4L907 733L907.5 738.9L908 734.2L908.5 737.2L909 735.7L909.5 736.5L910 735L910.5 737.9L911 733.7L911.5 739.2L912 732.2L912.5 741.1L913 731.5L913.5 741.5L914 730.8L914.5 741.9L915 729.2L915.5 743.3L916 728.8L916.5 742.5L917 728.8L917.5 743.7L918 730L918.5 742.5L919 729.4L919.5 741.8L920 731.1L920.5 741.2L921 731.2L921.5 740L922 732.6L922.5 739L923 734.1L923.5 737.7L924 735.1L924.5 736.6L925 736L925.5 736.8L926 734.6L926.5 737.8L927 733.6L927.5 739.3L928 732.6L928.5 740.3L929 732.3L929.5 740.7L930 731.3L930.5 741.5L931 730.3L931.5 742L932 731.2L932.5 741.4L933 731.2L933.5 742L934 730.5L934.5 741.9L935 731.4L935.5 740.9L936 731.9L936.5 740.1L937 732.8L937.5 739.3L938 733.8L938.5 738.4L939 734.7L939.5 737.2L940 735.5L940.5 736.2L941 735.7L941.5 737.1L942 734.7L942.5 738.1L943 733.7L943.5 738.7L944 732.9L944.5 739.5L945 732.7L945.5 740.1L946 731.9L946.5 740.2L947 731.5L947.5 740.4L948 731L948.5 741L949 731.7L949.5 741.2L950 732.2L950.5 740.8L951 732.3L951.5 740.2L952 733.1L952.5 739.2L953 733.6L953.5 738.5L954 734.3L954.5 737.6L955 735L955.5 736.8L956 735.9L956.5 736.4L957 735.5L957.5 737.3L958 734.5L958.5 738.2L959 734L959.5 738.5L960 733.2L960.5 739.2L961 732.5L961.5 739.4L962 732.5L962.5 740.5L963 731.7L963.5 740.1L964 731.6L964.5 739.9L965 732L965.5 740.3L966 732.5L966.5 739.9L967 732.9L967.5 739.5L968 733.7L968.5 738.7L969 734.2L969.5 738.1L970 734.8L970.5 737.1L971 735.4L971.5 736.4L972 736L972.5 736.6L973 735.2L973.5 737.3L974 734.4L974.5 738L975 734.1L975.5 738.7L976 733.5L976.5 739.4L977 733.3L977.5 739.8L978 733.1L978.5 739.3L979 733L979.5 739.8L980 732.4L980.5 739.8L981 732.9L981.5 739.5L982 733.3L982.5 739.5L983 733.4L983.5 738.5L984 733.9L984.5 738.1L985 734.3L985.5 737.6L986 735L986.5 736.8L987 735.8L987.5 736.1L988 735.8L988.5 736.8L989 735.2L989.5 737.3L990 734.5L990.5 737.8L991 734.1L991.5 738.8L992 733.5L992.5 738.9L993 733.1L993.5 739L994 732.8L994.5 739.1L995 732.8L995.5 739.7L996 733L996.5 739.6L997 733.2L997.5 738.8L998 733.5L998.5 738.7L999 733.5L999.5 738.3L1000 734.1L1000.5 737.7L1001 734.7L1001.5 737.1L1002 735.4L1002.5 736.6L1003 736L1003.5 736.3L1004 735.6L1004.5 736.8L1005 735L1005.5 737.4L1006 734.7L1006.5 738L1007 733.9L1007.5 738.6L1008 733.9L1008.5 739L1009 733.4L1009.5 738.9L1010 733L1010.5 739.1L1011 733L1011.5 739L1012 733.3L1012.5 739L1013 733.3L1013.5 738.7L1014 733.6L1014.5 738.5L1015 734L1015.5 737.7L1016 734.6L1016.5 737.3L1017 735L1017.5 736.8L1018 735.6L1018.5 736.3L1019 736L1019.5 736.4L1020 735.4L1020.5 737L1021 734.9L1021.5 737.6L1022 734.3L1022.5 738L1023 734.1L1023.5 738.4L1024 734L1024.5 738.8L1025 733.7L1025.5 738.9L1026 733.6L1026.5 738.6L1027 733.6L1027.5 739.1L1028 733.4L1028.5 738.5L1029 734.1L1029.5 738.6L1030 734.1L1030.5 737.9L1031 734.6L1031.5 737.7L1032 735L1032.5 737.1L1033 735.4L1033.5 736.7L1034 735.9L1034.5 736.1L1035 735.9L1035.5 736.7L1036 735.3L1036.5 737L1037 735L1037.5 737.7L1038 734.5L1038.5 738.1L1039 734L1039.5 738.4L1040 733.8" stroke="#ff0000" stroke-width="1.9" fill="none" stroke-linejoin="round"/>
</g>
<rect x="101.1" y="38.2" width="593.6" height="361.2" fill="none" stroke="#303030" stroke-width="1.7"/>
<path d="M219.8 399.4V393.4M219.8 38.2V44.2M338.5 399.4V393.4M338.5 38.2V44.2M457.3 399.4V393.4M457.3 38.2V44.2M576 399.4V393.4M576 38.2V44.2M101.1 131.2H107.1M694.7 131.2H688.7M101.1 223.7H107.1M694.7 223.7H688.7M101.1 316.2H107.1M694.7 316.2H688.7" stroke="#303030" stroke-width="1.5" fill="none"/>
<text x="100.3" y="442.3" font-family='"Liberation Serif", "Times New Roman", Times, serif' font-size="32" font-weight="normal" text-anchor="middle" fill="#0a0a0a">20</text>
<text x="219.3" y="442.3" font-family='"Liberation Serif", "Times New Roman", Times, serif' font-size="32" font-weight="normal" text-anchor="middle" fill="#0a0a0a">22</text>
<text x="338.4" y="442.3" font-family='"Liberation Serif", "Times New Roman", Times, serif' font-size="32" font-weight="normal" text-anchor="middle" fill="#0a0a0a">24</text>
<text x="457.4" y="442.3" font-family='"Liberation Serif", "Times New Roman", Times, serif' font-size="32" font-weight="normal" text-anchor="middle" fill="#0a0a0a">26</text>
<text x="576.5" y="442.3" font-family='"Liberation Serif", "Times New Roman", Times, serif' font-size="32" font-weight="normal" text-anchor="middle" fill="#0a0a0a">28</text>
<text x="695.5" y="442.3" font-family='"Liberation Serif", "Times New Roman", Times, serif' font-size="32" font-weight="normal" text-anchor="middle" fill="#0a0a0a">30</text>
<text x="88.8" y="51" font-family='"Liberation Serif", "Times New Roman", Times, serif' font-size="32" font-weight="normal" text-anchor="end" fill="#0a0a0a">1</text>
<text x="88.8" y="143.5" font-family='"Liberation Serif", "Times New Roman", Times, serif' font-size="32" font-weight="normal" text-anchor="end" fill="#0a0a0a">0.5</text>
<text x="88.8" y="236" font-family='"Liberation Serif", "Times New Roman", Times, serif' font-size="32" font-weight="normal" text-anchor="end" fill="#0a0a0a">0</text>
<text x="88.8" y="328.5" font-family='"Liberation Serif", "Times New Roman", Times, serif' font-size="32" font-weight="normal" text-anchor="end" fill="#0a0a0a">-0.5</text>
<text x="397.1" y="484.2" font-family='"Liberation Serif", "Times New Roman", Times, serif' font-size="34.8" font-weight="normal" text-anchor="middle" fill="#0a0a0a">time (s)</text>
<text transform="translate(28.2 220.3) rotate(-90)" font-family='"Liberation Serif", "Times New Roman", Times, serif' font-size="34.8" text-anchor="middle" fill="#0a0a0a">Acc<tspan font-size="28" dy="16">z</tspan><tspan dy="-16"> </tspan><tspan font-size="36.5">(</tspan>g<tspan font-size="36.5">)</tspan></text>
<rect x="115.6" y="44.6" width="246.5" height="113" fill="#ffffff" stroke="#303030" stroke-width="1.5"/>
<path d="M145.2 66.1H206.6" stroke="#000000" stroke-width="2.9" fill="none"/>
<path d="M145.2 120.6H206.6" stroke="#ff0000" stroke-width="2.9" fill="none"/>
<text x="211.8" y="76.8" font-family='"Liberation Serif", "Times New Roman", Times, serif' font-size="28.6" font-weight="normal" text-anchor="start" fill="#0a0a0a">Field test</text>
<text x="211.8" y="113.4" font-family='"Liberation Serif", "Times New Roman", Times, serif' font-size="28.6" font-weight="normal" text-anchor="start" fill="#0a0a0a">Analytical</text>
<text x="211.8" y="147.5" font-family='"Liberation Serif", "Times New Roman", Times, serif' font-size="28.6" font-weight="normal" text-anchor="start" fill="#0a0a0a">solution</text>
<text x="1.9" y="32.3" font-family='"Liberation Sans", Arial, Helvetica, sans-serif' font-size="42.8" font-weight="bold" text-anchor="start" fill="#1a1612">A</text>
<rect x="817.9" y="46.3" width="599.6" height="354.7" fill="none" stroke="#111111" stroke-width="1.7"/>
<path d="M937.8 401V395M937.8 46.3V52.3M1057.7 401V395M1057.7 46.3V52.3M1177.7 401V395M1177.7 46.3V52.3M1297.6 401V395M1297.6 46.3V52.3M817.9 113.2H823.9M1417.5 113.2H1411.5M817.9 224.1H823.9M1417.5 224.1H1411.5M817.9 335H823.9M1417.5 335H1411.5" stroke="#111111" stroke-width="1.5" fill="none"/>
<text x="817.1" y="443.6" font-family='"Liberation Serif", "Times New Roman", Times, serif' font-size="32" font-weight="normal" text-anchor="middle" fill="#0a0a0a">20</text>
<text x="937.3" y="443.6" font-family='"Liberation Serif", "Times New Roman", Times, serif' font-size="32" font-weight="normal" text-anchor="middle" fill="#0a0a0a">22</text>
<text x="1057.6" y="443.6" font-family='"Liberation Serif", "Times New Roman", Times, serif' font-size="32" font-weight="normal" text-anchor="middle" fill="#0a0a0a">24</text>
<text x="1177.8" y="443.6" font-family='"Liberation Serif", "Times New Roman", Times, serif' font-size="32" font-weight="normal" text-anchor="middle" fill="#0a0a0a">26</text>
<text x="1298.1" y="443.6" font-family='"Liberation Serif", "Times New Roman", Times, serif' font-size="32" font-weight="normal" text-anchor="middle" fill="#0a0a0a">28</text>
<text x="1418.3" y="443.6" font-family='"Liberation Serif", "Times New Roman", Times, serif' font-size="32" font-weight="normal" text-anchor="middle" fill="#0a0a0a">30</text>
<text x="805.4" y="125.8" font-family='"Liberation Serif", "Times New Roman", Times, serif' font-size="32" font-weight="normal" text-anchor="end" fill="#0a0a0a">0.5</text>
<text x="805.4" y="236.7" font-family='"Liberation Serif", "Times New Roman", Times, serif' font-size="32" font-weight="normal" text-anchor="end" fill="#0a0a0a">0</text>
<text x="805.4" y="347.6" font-family='"Liberation Serif", "Times New Roman", Times, serif' font-size="32" font-weight="normal" text-anchor="end" fill="#0a0a0a">-0.5</text>
<text x="1117.7" y="486.7" font-family='"Liberation Serif", "Times New Roman", Times, serif' font-size="34.8" font-weight="normal" text-anchor="middle" fill="#0a0a0a">time (s)</text>
<text transform="translate(755.9 225.5) rotate(-90)" font-family='"Liberation Serif", "Times New Roman", Times, serif' font-size="34.8" text-anchor="middle" fill="#0a0a0a">Acc<tspan font-size="28" dy="16">x</tspan><tspan dy="-16"> </tspan><tspan font-size="36.5">(</tspan>g<tspan font-size="36.5">)</tspan></text>
<rect x="848" y="55.7" width="244.9" height="112.7" fill="#ffffff" stroke="#111111" stroke-width="1.5"/>
<path d="M878.5 78H936.9" stroke="#000000" stroke-width="2.9" fill="none"/>
<path d="M878.5 131.9H936.9" stroke="#ff0000" stroke-width="2.9" fill="none"/>
<text x="944" y="87.5" font-family='"Liberation Serif", "Times New Roman", Times, serif' font-size="28.6" font-weight="normal" text-anchor="start" fill="#0a0a0a">Field test</text>
<text x="944" y="124.4" font-family='"Liberation Serif", "Times New Roman", Times, serif' font-size="28.6" font-weight="normal" text-anchor="start" fill="#0a0a0a">Analytical</text>
<text x="944" y="157.9" font-family='"Liberation Serif", "Times New Roman", Times, serif' font-size="28.6" font-weight="normal" text-anchor="start" fill="#0a0a0a">solution</text>
<text x="721.3" y="32.3" font-family='"Liberation Sans", Arial, Helvetica, sans-serif' font-size="42.8" font-weight="bold" text-anchor="start" fill="#1a1612">B</text>
<rect x="538.8" y="554" width="599.8" height="364.3" fill="none" stroke="#151515" stroke-width="1.7"/>
<path d="M658.8 918.3V912.3M658.8 554V560M778.7 918.3V912.3M778.7 554V560M898.7 918.3V912.3M898.7 554V560M1018.6 918.3V912.3M1018.6 554V560M538.8 645H544.8M1138.6 645H1132.6M538.8 736.1H544.8M1138.6 736.1H1132.6M538.8 827.2H544.8M1138.6 827.2H1132.6" stroke="#151515" stroke-width="1.5" fill="none"/>
<text x="538" y="959.1" font-family='"Liberation Serif", "Times New Roman", Times, serif' font-size="32" font-weight="normal" text-anchor="middle" fill="#0a0a0a">20</text>
<text x="658.3" y="959.1" font-family='"Liberation Serif", "Times New Roman", Times, serif' font-size="32" font-weight="normal" text-anchor="middle" fill="#0a0a0a">22</text>
<text x="778.6" y="959.1" font-family='"Liberation Serif", "Times New Roman", Times, serif' font-size="32" font-weight="normal" text-anchor="middle" fill="#0a0a0a">24</text>
<text x="898.8" y="959.1" font-family='"Liberation Serif", "Times New Roman", Times, serif' font-size="32" font-weight="normal" text-anchor="middle" fill="#0a0a0a">26</text>
<text x="1019.1" y="959.1" font-family='"Liberation Serif", "Times New Roman", Times, serif' font-size="32" font-weight="normal" text-anchor="middle" fill="#0a0a0a">28</text>
<text x="1139.4" y="959.1" font-family='"Liberation Serif", "Times New Roman", Times, serif' font-size="32" font-weight="normal" text-anchor="middle" fill="#0a0a0a">30</text>
<text x="525.8" y="565.5" font-family='"Liberation Serif", "Times New Roman", Times, serif' font-size="32" font-weight="normal" text-anchor="end" fill="#0a0a0a">0.2</text>
<text x="525.8" y="656.6" font-family='"Liberation Serif", "Times New Roman", Times, serif' font-size="32" font-weight="normal" text-anchor="end" fill="#0a0a0a">0.1</text>
<text x="525.8" y="747.7" font-family='"Liberation Serif", "Times New Roman", Times, serif' font-size="32" font-weight="normal" text-anchor="end" fill="#0a0a0a">0</text>
<text x="525.8" y="838.8" font-family='"Liberation Serif", "Times New Roman", Times, serif' font-size="32" font-weight="normal" text-anchor="end" fill="#0a0a0a">-0.1</text>
<text x="525.8" y="929.9" font-family='"Liberation Serif", "Times New Roman", Times, serif' font-size="32" font-weight="normal" text-anchor="end" fill="#0a0a0a">-0.2</text>
<text x="838.7" y="1003" font-family='"Liberation Serif", "Times New Roman", Times, serif' font-size="34.8" font-weight="normal" text-anchor="middle" fill="#0a0a0a">time (s)</text>
<text transform="translate(459.1 736.9) rotate(-90)" font-family='"Liberation Serif", "Times New Roman", Times, serif' font-size="34.8" text-anchor="middle" fill="#0a0a0a">Acc<tspan font-size="28" dy="16">y</tspan><tspan dy="-16"> </tspan><tspan font-size="36.5">(</tspan>g<tspan font-size="36.5">)</tspan></text>
<rect x="556.3" y="564.8" width="244.7" height="114.9" fill="#ffffff" stroke="#151515" stroke-width="1.5"/>
<path d="M586.3 587.2H645.4" stroke="#000000" stroke-width="2.9" fill="none"/>
<path d="M586.3 641H645.4" stroke="#ff0000" stroke-width="2.9" fill="none"/>
<text x="651.5" y="596.8" font-family='"Liberation Serif", "Times New Roman", Times, serif' font-size="28.6" font-weight="normal" text-anchor="start" fill="#0a0a0a">Field test</text>
<text x="651.5" y="633.7" font-family='"Liberation Serif", "Times New Roman", Times, serif' font-size="28.6" font-weight="normal" text-anchor="start" fill="#0a0a0a">Analytical</text>
<text x="651.5" y="668.1" font-family='"Liberation Serif", "Times New Roman", Times, serif' font-size="28.6" font-weight="normal" text-anchor="start" fill="#0a0a0a">solution</text>
<text x="445.3" y="537.1" font-family='"Liberation Sans", Arial, Helvetica, sans-serif' font-size="42.8" font-weight="bold" text-anchor="start" fill="#1a1612">C</text>
</svg>
</body>
</html>
